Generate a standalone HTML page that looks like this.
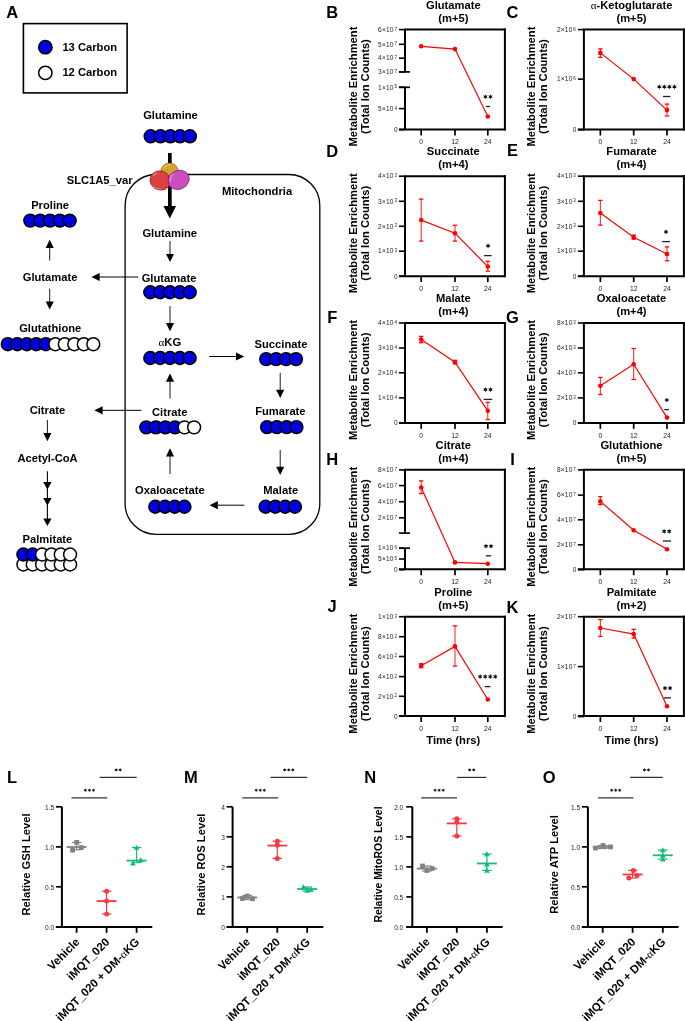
<!DOCTYPE html>
<html><head><meta charset="utf-8"><style>
html,body{margin:0;padding:0;background:#fff;}
svg{display:block;will-change:transform;}
text{font-family:"Liberation Sans",sans-serif;}
</style></head><body>
<svg width="685" height="1021" viewBox="0 0 685 1021">
<rect width="685" height="1021" fill="#fff"/>
<text x="6.20" y="18.10" font-size="16.5" text-anchor="start" font-weight="bold" fill="#000" >A</text>
<rect x="23.4" y="23.6" width="103.7" height="69.3" fill="none" stroke="#000" stroke-width="1.6"/>
<circle cx="45.35" cy="47.15" r="6.7" fill="#0000e0" stroke="#000" stroke-width="1.5"/>
<circle cx="45.35" cy="72.85" r="6.7" fill="#fff" stroke="#000" stroke-width="1.5"/>
<text x="62.40" y="50.90" font-size="11.2" text-anchor="start" font-weight="bold" fill="#000" >13 Carbon</text>
<text x="62.40" y="76.00" font-size="11.2" text-anchor="start" font-weight="bold" fill="#000" >12 Carbon</text>
<rect x="125.1" y="174.5" width="194.7" height="359.9" rx="31" ry="31" fill="none" stroke="#000" stroke-width="1.3"/>
<text x="257.00" y="195.00" font-size="11.2" text-anchor="middle" font-weight="bold" fill="#000" >Mitochondria</text>
<text x="170.50" y="119.40" font-size="11.2" text-anchor="middle" font-weight="bold" fill="#000" >Glutamine</text>
<circle cx="150.70" cy="136.30" r="6.45" fill="#0000e0" stroke="#000" stroke-width="1.5"/>
<circle cx="160.50" cy="136.30" r="6.45" fill="#0000e0" stroke="#000" stroke-width="1.5"/>
<circle cx="170.30" cy="136.30" r="6.45" fill="#0000e0" stroke="#000" stroke-width="1.5"/>
<circle cx="180.10" cy="136.30" r="6.45" fill="#0000e0" stroke="#000" stroke-width="1.5"/>
<circle cx="189.90" cy="136.30" r="6.45" fill="#0000e0" stroke="#000" stroke-width="1.5"/>
<rect x="168" y="153" width="3.7" height="54" fill="#000"/>
<polygon points="163.5,206 176.1,206 169.8,218.4" fill="#000"/>
<g>
<ellipse cx="169.5" cy="171.2" rx="8.7" ry="8.1" fill="#d5a42c" stroke="#8a6510" stroke-width="0.7"/>
<path d="M163.5,168.5 A6.5,6 0 0 1 170,164.8" fill="none" stroke="#fff" stroke-opacity="0.55" stroke-width="0.9" stroke-linecap="round"/>
<g transform="rotate(18 160.3 180.5)"><ellipse cx="160.3" cy="180.5" rx="10.4" ry="9.5" fill="#db4141" stroke="#7d1818" stroke-width="0.7"/><path d="M152.4,178 A8.2,7.4 0 0 1 154.5,174.3" fill="none" stroke="#fff" stroke-opacity="0.6" stroke-width="0.9" stroke-linecap="round"/><path d="M156,188.2 A8.4,7.6 0 0 0 163.5,188.5" fill="none" stroke="#fff" stroke-opacity="0.45" stroke-width="0.9" stroke-linecap="round"/></g>
<g transform="rotate(-25 178.6 179.9)"><ellipse cx="178.6" cy="179.9" rx="10.9" ry="9.3" fill="#cd4dc1" stroke="#6b1863" stroke-width="0.7"/><path d="M170.5,177.5 A8.6,7.4 0 0 1 176,172.3" fill="none" stroke="#fff" stroke-opacity="0.6" stroke-width="0.9" stroke-linecap="round"/></g>
</g>
<text x="132.60" y="184.20" font-size="11.2" text-anchor="end" font-weight="bold" fill="#000" >SLC1A5_var</text>
<text x="169.75" y="237.10" font-size="11.2" text-anchor="middle" font-weight="bold" fill="#000" >Glutamine</text>
<line x1="170.00" y1="241.10" x2="170.00" y2="254.72" stroke="#000" stroke-width="0.9" stroke-linecap="butt"/>
<polygon points="165.95,253.90 174.05,253.90 170.00,262.10" fill="#000"/>
<text x="169.00" y="282.00" font-size="11.2" text-anchor="middle" font-weight="bold" fill="#000" >Glutamate</text>
<circle cx="150.30" cy="292.25" r="6.45" fill="#0000e0" stroke="#000" stroke-width="1.5"/>
<circle cx="160.15" cy="292.25" r="6.45" fill="#0000e0" stroke="#000" stroke-width="1.5"/>
<circle cx="170.00" cy="292.25" r="6.45" fill="#0000e0" stroke="#000" stroke-width="1.5"/>
<circle cx="179.85" cy="292.25" r="6.45" fill="#0000e0" stroke="#000" stroke-width="1.5"/>
<circle cx="189.70" cy="292.25" r="6.45" fill="#0000e0" stroke="#000" stroke-width="1.5"/>
<line x1="170.00" y1="306.00" x2="170.00" y2="323.92" stroke="#000" stroke-width="0.9" stroke-linecap="butt"/>
<polygon points="165.95,323.10 174.05,323.10 170.00,331.30" fill="#000"/>
<text x="169.75" y="346.30" font-size="11.2" text-anchor="middle" font-weight="bold" fill="#000" ><tspan font-family="Liberation Serif" font-weight="normal">&#945;</tspan>KG</text>
<circle cx="150.30" cy="358.00" r="6.45" fill="#0000e0" stroke="#000" stroke-width="1.5"/>
<circle cx="160.15" cy="358.00" r="6.45" fill="#0000e0" stroke="#000" stroke-width="1.5"/>
<circle cx="170.00" cy="358.00" r="6.45" fill="#0000e0" stroke="#000" stroke-width="1.5"/>
<circle cx="179.85" cy="358.00" r="6.45" fill="#0000e0" stroke="#000" stroke-width="1.5"/>
<circle cx="189.70" cy="358.00" r="6.45" fill="#0000e0" stroke="#000" stroke-width="1.5"/>
<line x1="209.10" y1="356.50" x2="236.82" y2="356.50" stroke="#000" stroke-width="1.0" stroke-linecap="butt"/>
<polygon points="236.00,352.40 236.00,360.60 244.20,356.50" fill="#000"/>
<text x="281.00" y="348.00" font-size="11.2" text-anchor="middle" font-weight="bold" fill="#000" >Succinate</text>
<circle cx="266.20" cy="359.10" r="6.45" fill="#0000e0" stroke="#000" stroke-width="1.5"/>
<circle cx="276.13" cy="359.10" r="6.45" fill="#0000e0" stroke="#000" stroke-width="1.5"/>
<circle cx="286.06" cy="359.10" r="6.45" fill="#0000e0" stroke="#000" stroke-width="1.5"/>
<circle cx="295.99" cy="359.10" r="6.45" fill="#0000e0" stroke="#000" stroke-width="1.5"/>
<line x1="280.20" y1="372.80" x2="280.20" y2="390.52" stroke="#000" stroke-width="0.9" stroke-linecap="butt"/>
<polygon points="276.15,389.70 284.25,389.70 280.20,397.90" fill="#000"/>
<text x="280.40" y="415.20" font-size="11.2" text-anchor="middle" font-weight="bold" fill="#000" >Fumarate</text>
<circle cx="267.10" cy="427.10" r="6.45" fill="#0000e0" stroke="#000" stroke-width="1.5"/>
<circle cx="276.87" cy="427.10" r="6.45" fill="#0000e0" stroke="#000" stroke-width="1.5"/>
<circle cx="286.64" cy="427.10" r="6.45" fill="#0000e0" stroke="#000" stroke-width="1.5"/>
<circle cx="296.41" cy="427.10" r="6.45" fill="#0000e0" stroke="#000" stroke-width="1.5"/>
<line x1="280.20" y1="450.00" x2="280.20" y2="467.62" stroke="#000" stroke-width="0.9" stroke-linecap="butt"/>
<polygon points="276.15,466.80 284.25,466.80 280.20,475.00" fill="#000"/>
<text x="280.70" y="494.20" font-size="11.2" text-anchor="middle" font-weight="bold" fill="#000" >Malate</text>
<circle cx="265.60" cy="506.75" r="6.45" fill="#0000e0" stroke="#000" stroke-width="1.5"/>
<circle cx="275.37" cy="506.75" r="6.45" fill="#0000e0" stroke="#000" stroke-width="1.5"/>
<circle cx="285.14" cy="506.75" r="6.45" fill="#0000e0" stroke="#000" stroke-width="1.5"/>
<circle cx="294.91" cy="506.75" r="6.45" fill="#0000e0" stroke="#000" stroke-width="1.5"/>
<line x1="244.20" y1="505.20" x2="216.98" y2="505.20" stroke="#000" stroke-width="1.0" stroke-linecap="butt"/>
<polygon points="217.80,501.10 217.80,509.30 209.60,505.20" fill="#000"/>
<text x="169.85" y="494.20" font-size="11.2" text-anchor="middle" font-weight="bold" fill="#000" >Oxaloacetate</text>
<circle cx="155.30" cy="506.75" r="6.45" fill="#0000e0" stroke="#000" stroke-width="1.5"/>
<circle cx="165.00" cy="506.75" r="6.45" fill="#0000e0" stroke="#000" stroke-width="1.5"/>
<circle cx="174.70" cy="506.75" r="6.45" fill="#0000e0" stroke="#000" stroke-width="1.5"/>
<circle cx="184.40" cy="506.75" r="6.45" fill="#0000e0" stroke="#000" stroke-width="1.5"/>
<line x1="170.00" y1="474.00" x2="170.00" y2="455.68" stroke="#000" stroke-width="0.9" stroke-linecap="butt"/>
<polygon points="165.95,456.50 174.05,456.50 170.00,448.30" fill="#000"/>
<text x="169.75" y="415.60" font-size="11.2" text-anchor="middle" font-weight="bold" fill="#000" >Citrate</text>
<circle cx="146.30" cy="427.35" r="6.45" fill="#0000e0" stroke="#000" stroke-width="1.5"/>
<circle cx="155.86" cy="427.35" r="6.45" fill="#0000e0" stroke="#000" stroke-width="1.5"/>
<circle cx="165.42" cy="427.35" r="6.45" fill="#0000e0" stroke="#000" stroke-width="1.5"/>
<circle cx="174.98" cy="427.35" r="6.45" fill="#0000e0" stroke="#000" stroke-width="1.5"/>
<circle cx="184.54" cy="427.35" r="6.45" fill="#fff" stroke="#000" stroke-width="1.5"/>
<circle cx="194.10" cy="427.35" r="6.45" fill="#fff" stroke="#000" stroke-width="1.5"/>
<line x1="170.00" y1="398.50" x2="170.00" y2="380.88" stroke="#000" stroke-width="0.9" stroke-linecap="butt"/>
<polygon points="165.95,381.70 174.05,381.70 170.00,373.50" fill="#000"/>
<line x1="138.30" y1="277.00" x2="98.78" y2="277.00" stroke="#000" stroke-width="1.0" stroke-linecap="butt"/>
<polygon points="99.60,272.90 99.60,281.10 91.40,277.00" fill="#000"/>
<line x1="141.50" y1="410.30" x2="101.78" y2="410.30" stroke="#000" stroke-width="1.0" stroke-linecap="butt"/>
<polygon points="102.60,406.20 102.60,414.40 94.40,410.30" fill="#000"/>
<text x="50.10" y="209.00" font-size="11.2" text-anchor="middle" font-weight="bold" fill="#000" >Proline</text>
<circle cx="30.30" cy="220.60" r="6.45" fill="#0000e0" stroke="#000" stroke-width="1.5"/>
<circle cx="40.15" cy="220.60" r="6.45" fill="#0000e0" stroke="#000" stroke-width="1.5"/>
<circle cx="50.00" cy="220.60" r="6.45" fill="#0000e0" stroke="#000" stroke-width="1.5"/>
<circle cx="59.85" cy="220.60" r="6.45" fill="#0000e0" stroke="#000" stroke-width="1.5"/>
<circle cx="69.70" cy="220.60" r="6.45" fill="#0000e0" stroke="#000" stroke-width="1.5"/>
<line x1="49.70" y1="260.50" x2="49.70" y2="247.08" stroke="#000" stroke-width="0.9" stroke-linecap="butt"/>
<polygon points="45.65,247.90 53.75,247.90 49.70,239.70" fill="#000"/>
<text x="50.05" y="281.40" font-size="11.2" text-anchor="middle" font-weight="bold" fill="#000" >Glutamate</text>
<line x1="49.70" y1="288.70" x2="49.70" y2="302.22" stroke="#000" stroke-width="0.9" stroke-linecap="butt"/>
<polygon points="45.65,301.40 53.75,301.40 49.70,309.60" fill="#000"/>
<text x="50.25" y="332.40" font-size="11.2" text-anchor="middle" font-weight="bold" fill="#000" >Glutathione</text>
<circle cx="7.80" cy="344.20" r="6.45" fill="#0000e0" stroke="#000" stroke-width="1.5"/>
<circle cx="17.30" cy="344.20" r="6.45" fill="#0000e0" stroke="#000" stroke-width="1.5"/>
<circle cx="26.80" cy="344.20" r="6.45" fill="#0000e0" stroke="#000" stroke-width="1.5"/>
<circle cx="36.30" cy="344.20" r="6.45" fill="#0000e0" stroke="#000" stroke-width="1.5"/>
<circle cx="45.80" cy="344.20" r="6.45" fill="#0000e0" stroke="#000" stroke-width="1.5"/>
<circle cx="55.30" cy="344.20" r="6.45" fill="#fff" stroke="#000" stroke-width="1.5"/>
<circle cx="64.80" cy="344.20" r="6.45" fill="#fff" stroke="#000" stroke-width="1.5"/>
<circle cx="74.30" cy="344.20" r="6.45" fill="#fff" stroke="#000" stroke-width="1.5"/>
<circle cx="83.80" cy="344.20" r="6.45" fill="#fff" stroke="#000" stroke-width="1.5"/>
<circle cx="93.30" cy="344.20" r="6.45" fill="#fff" stroke="#000" stroke-width="1.5"/>
<text x="47.40" y="414.10" font-size="11.2" text-anchor="middle" font-weight="bold" fill="#000" >Citrate</text>
<line x1="47.40" y1="419.90" x2="47.40" y2="433.92" stroke="#000" stroke-width="0.9" stroke-linecap="butt"/>
<polygon points="43.35,433.10 51.45,433.10 47.40,441.30" fill="#000"/>
<text x="47.55" y="462.40" font-size="11.2" text-anchor="middle" font-weight="bold" fill="#000" >Acetyl-CoA</text>
<line x1="47.40" y1="471.20" x2="47.40" y2="519.00" stroke="#000" stroke-width="1.1" stroke-linecap="butt"/>
<polygon points="43.25,481.90 51.55,481.90 47.4,489.50" fill="#000"/>
<polygon points="43.25,497.90 51.55,497.90 47.4,505.50" fill="#000"/>
<polygon points="43.25,518.40 51.55,518.40 47.4,526.00" fill="#000"/>
<text x="47.45" y="543.20" font-size="11.2" text-anchor="middle" font-weight="bold" fill="#000" >Palmitate</text>
<circle cx="23.40" cy="564.50" r="6.45" fill="#fff" stroke="#000" stroke-width="1.5"/>
<circle cx="32.74" cy="564.50" r="6.45" fill="#fff" stroke="#000" stroke-width="1.5"/>
<circle cx="42.08" cy="564.50" r="6.45" fill="#fff" stroke="#000" stroke-width="1.5"/>
<circle cx="51.42" cy="564.50" r="6.45" fill="#fff" stroke="#000" stroke-width="1.5"/>
<circle cx="60.76" cy="564.50" r="6.45" fill="#fff" stroke="#000" stroke-width="1.5"/>
<circle cx="70.10" cy="564.50" r="6.45" fill="#fff" stroke="#000" stroke-width="1.5"/>
<circle cx="23.40" cy="554.50" r="6.45" fill="#0000e0" stroke="#000" stroke-width="1.5"/>
<circle cx="32.74" cy="554.50" r="6.45" fill="#0000e0" stroke="#000" stroke-width="1.5"/>
<circle cx="42.08" cy="554.50" r="6.45" fill="#fff" stroke="#000" stroke-width="1.5"/>
<circle cx="51.42" cy="554.50" r="6.45" fill="#fff" stroke="#000" stroke-width="1.5"/>
<circle cx="60.76" cy="554.50" r="6.45" fill="#fff" stroke="#000" stroke-width="1.5"/>
<circle cx="70.10" cy="554.50" r="6.45" fill="#fff" stroke="#000" stroke-width="1.5"/>
<text x="332.20" y="18.10" font-size="16.5" text-anchor="middle" font-weight="bold" fill="#000" >B</text>
<text x="453.30" y="8.60" font-size="11.2" text-anchor="middle" font-weight="bold" fill="#000" >Glutamate</text>
<text x="453.30" y="21.80" font-size="11.2" text-anchor="middle" font-weight="bold" fill="#000" >(m+5)</text>
<text x="356.90" y="86.60" font-size="11.2" font-weight="bold" text-anchor="middle" transform="rotate(-90 356.90 86.60)">Metabolite Enrichment</text>
<text x="369.30" y="86.60" font-size="11.2" font-weight="bold" text-anchor="middle" transform="rotate(-90 369.30 86.60)">(Total Ion Counts)</text>
<line x1="405.00" y1="29.60" x2="504.90" y2="29.60" stroke="#000" stroke-width="2.0" stroke-linecap="square"/>
<line x1="504.90" y1="29.60" x2="504.90" y2="129.60" stroke="#000" stroke-width="2.0" stroke-linecap="square"/>
<line x1="399.00" y1="129.60" x2="504.90" y2="129.60" stroke="#000" stroke-width="2.0" stroke-linecap="butt"/>
<line x1="405.00" y1="29.60" x2="405.00" y2="71.90" stroke="#000" stroke-width="2.0" stroke-linecap="butt"/>
<line x1="405.00" y1="87.30" x2="405.00" y2="129.60" stroke="#000" stroke-width="2.0" stroke-linecap="butt"/>
<line x1="399.00" y1="71.90" x2="410.00" y2="71.90" stroke="#000" stroke-width="1.7" stroke-linecap="butt"/>
<line x1="399.00" y1="87.30" x2="410.00" y2="87.30" stroke="#000" stroke-width="1.7" stroke-linecap="butt"/>
<line x1="399.00" y1="29.60" x2="405.00" y2="29.60" stroke="#000" stroke-width="1.6" stroke-linecap="butt"/>
<text x="396.90" y="31.80" font-size="6.6" text-anchor="end" fill="#222" letter-spacing="0.2">6&#215;10<tspan font-size="4.5" dy="-1.3" dx="0.7" letter-spacing="0">7</tspan></text>
<line x1="399.00" y1="44.30" x2="405.00" y2="44.30" stroke="#000" stroke-width="1.6" stroke-linecap="butt"/>
<text x="396.90" y="46.50" font-size="6.6" text-anchor="end" fill="#222" letter-spacing="0.2">5&#215;10<tspan font-size="4.5" dy="-1.3" dx="0.7" letter-spacing="0">7</tspan></text>
<line x1="399.00" y1="58.20" x2="405.00" y2="58.20" stroke="#000" stroke-width="1.6" stroke-linecap="butt"/>
<text x="396.90" y="60.40" font-size="6.6" text-anchor="end" fill="#222" letter-spacing="0.2">4&#215;10<tspan font-size="4.5" dy="-1.3" dx="0.7" letter-spacing="0">7</tspan></text>
<line x1="399.00" y1="71.90" x2="405.00" y2="71.90" stroke="#000" stroke-width="1.6" stroke-linecap="butt"/>
<text x="396.90" y="74.10" font-size="6.6" text-anchor="end" fill="#222" letter-spacing="0.2">3&#215;10<tspan font-size="4.5" dy="-1.3" dx="0.7" letter-spacing="0">7</tspan></text>
<line x1="399.00" y1="87.30" x2="405.00" y2="87.30" stroke="#000" stroke-width="1.6" stroke-linecap="butt"/>
<text x="396.90" y="89.50" font-size="6.6" text-anchor="end" fill="#222" letter-spacing="0.2">1&#215;10<tspan font-size="4.5" dy="-1.3" dx="0.7" letter-spacing="0">5</tspan></text>
<line x1="399.00" y1="108.60" x2="405.00" y2="108.60" stroke="#000" stroke-width="1.6" stroke-linecap="butt"/>
<text x="396.90" y="110.80" font-size="6.6" text-anchor="end" fill="#222" letter-spacing="0.2">5&#215;10<tspan font-size="4.5" dy="-1.3" dx="0.7" letter-spacing="0">4</tspan></text>
<line x1="399.00" y1="129.60" x2="405.00" y2="129.60" stroke="#000" stroke-width="1.6" stroke-linecap="butt"/>
<text x="397.50" y="131.90" font-size="6.5" text-anchor="end" fill="#222" font-family="Liberation Sans, sans-serif">0</text>
<line x1="421.20" y1="129.60" x2="421.20" y2="135.50" stroke="#000" stroke-width="1.7" stroke-linecap="butt"/>
<text x="421.20" y="144.30" font-size="6.8" text-anchor="middle" fill="#222">0</text>
<line x1="455.00" y1="129.60" x2="455.00" y2="135.50" stroke="#000" stroke-width="1.7" stroke-linecap="butt"/>
<text x="455.00" y="144.30" font-size="6.8" text-anchor="middle" fill="#222">12</text>
<line x1="487.80" y1="129.60" x2="487.80" y2="135.50" stroke="#000" stroke-width="1.7" stroke-linecap="butt"/>
<text x="487.80" y="144.30" font-size="6.8" text-anchor="middle" fill="#222">24</text>
<polyline points="421.20,46.30 455.00,49.10 487.80,116.50" fill="none" stroke="#ff0000" stroke-width="1.2"/>
<circle cx="421.20" cy="46.30" r="2.3" fill="#ff0000"/>
<circle cx="455.00" cy="49.10" r="2.3" fill="#ff0000"/>
<circle cx="487.80" cy="116.50" r="2.3" fill="#ff0000"/>
<polygon points="485.43,94.15 486.05,95.67 487.68,95.45 486.68,96.75 487.68,98.05 486.05,97.83 485.43,99.35 484.80,97.83 483.17,98.05 484.18,96.75 483.17,95.45 484.80,95.67" fill="#111"/>
<polygon points="490.48,94.15 491.10,95.67 492.73,95.45 491.73,96.75 492.73,98.05 491.10,97.83 490.48,99.35 489.85,97.83 488.22,98.05 489.23,96.75 488.22,95.45 489.85,95.67" fill="#111"/>
<line x1="485.90" y1="106.50" x2="489.90" y2="106.50" stroke="#222" stroke-width="1.3" stroke-linecap="butt"/>
<text x="512.50" y="18.00" font-size="16.5" text-anchor="middle" font-weight="bold" fill="#000" >C</text>
<text x="631.50" y="8.60" font-size="11.2" text-anchor="middle" font-weight="bold" fill="#000" ><tspan font-family="Liberation Serif" font-weight="normal">&#945;</tspan>-Ketoglutarate</text>
<text x="631.50" y="21.80" font-size="11.2" text-anchor="middle" font-weight="bold" fill="#000" >(m+5)</text>
<text x="534.70" y="86.60" font-size="11.2" font-weight="bold" text-anchor="middle" transform="rotate(-90 534.70 86.60)">Metabolite Enrichment</text>
<text x="547.30" y="86.60" font-size="11.2" font-weight="bold" text-anchor="middle" transform="rotate(-90 547.30 86.60)">(Total Ion Counts)</text>
<line x1="583.90" y1="29.60" x2="683.90" y2="29.60" stroke="#000" stroke-width="2.0" stroke-linecap="square"/>
<line x1="683.90" y1="29.60" x2="683.90" y2="129.60" stroke="#000" stroke-width="2.0" stroke-linecap="square"/>
<line x1="577.90" y1="129.60" x2="683.90" y2="129.60" stroke="#000" stroke-width="2.0" stroke-linecap="butt"/>
<line x1="583.90" y1="29.60" x2="583.90" y2="130.50" stroke="#000" stroke-width="2.0" stroke-linecap="butt"/>
<line x1="577.90" y1="29.60" x2="583.90" y2="29.60" stroke="#000" stroke-width="1.6" stroke-linecap="butt"/>
<text x="575.80" y="31.80" font-size="6.6" text-anchor="end" fill="#222" letter-spacing="0.2">2&#215;10<tspan font-size="4.5" dy="-1.3" dx="0.7" letter-spacing="0">6</tspan></text>
<line x1="577.90" y1="79.10" x2="583.90" y2="79.10" stroke="#000" stroke-width="1.6" stroke-linecap="butt"/>
<text x="575.80" y="81.30" font-size="6.6" text-anchor="end" fill="#222" letter-spacing="0.2">1&#215;10<tspan font-size="4.5" dy="-1.3" dx="0.7" letter-spacing="0">6</tspan></text>
<line x1="577.90" y1="129.60" x2="583.90" y2="129.60" stroke="#000" stroke-width="1.6" stroke-linecap="butt"/>
<text x="576.40" y="131.90" font-size="6.5" text-anchor="end" fill="#222" font-family="Liberation Sans, sans-serif">0</text>
<line x1="600.35" y1="129.60" x2="600.35" y2="135.50" stroke="#000" stroke-width="1.7" stroke-linecap="butt"/>
<text x="600.35" y="144.30" font-size="6.8" text-anchor="middle" fill="#222">0</text>
<line x1="633.70" y1="129.60" x2="633.70" y2="135.50" stroke="#000" stroke-width="1.7" stroke-linecap="butt"/>
<text x="633.70" y="144.30" font-size="6.8" text-anchor="middle" fill="#222">12</text>
<line x1="667.00" y1="129.60" x2="667.00" y2="135.50" stroke="#000" stroke-width="1.7" stroke-linecap="butt"/>
<text x="667.00" y="144.30" font-size="6.8" text-anchor="middle" fill="#222">24</text>
<polyline points="600.35,52.90 633.70,79.10 667.00,110.10" fill="none" stroke="#ff0000" stroke-width="1.2"/>
<line x1="600.35" y1="48.90" x2="600.35" y2="57.30" stroke="#ff0000" stroke-width="0.9" stroke-linecap="butt"/>
<line x1="598.15" y1="48.90" x2="602.55" y2="48.90" stroke="#ff0000" stroke-width="1.3" stroke-linecap="butt"/>
<line x1="598.15" y1="57.30" x2="602.55" y2="57.30" stroke="#ff0000" stroke-width="1.3" stroke-linecap="butt"/>
<circle cx="600.35" cy="52.90" r="2.3" fill="#ff0000"/>
<circle cx="633.70" cy="79.10" r="2.3" fill="#ff0000"/>
<line x1="667.00" y1="104.10" x2="667.00" y2="115.90" stroke="#ff0000" stroke-width="0.9" stroke-linecap="butt"/>
<line x1="664.80" y1="104.10" x2="669.20" y2="104.10" stroke="#ff0000" stroke-width="1.3" stroke-linecap="butt"/>
<line x1="664.80" y1="115.90" x2="669.20" y2="115.90" stroke="#ff0000" stroke-width="1.3" stroke-linecap="butt"/>
<circle cx="667.00" cy="110.10" r="2.3" fill="#ff0000"/>
<polygon points="659.27,84.20 659.90,85.72 661.53,85.50 660.52,86.80 661.53,88.10 659.90,87.88 659.27,89.40 658.65,87.88 657.02,88.10 658.02,86.80 657.02,85.50 658.65,85.72" fill="#111"/>
<polygon points="664.32,84.20 664.95,85.72 666.58,85.50 665.57,86.80 666.58,88.10 664.95,87.88 664.32,89.40 663.70,87.88 662.07,88.10 663.07,86.80 662.07,85.50 663.70,85.72" fill="#111"/>
<polygon points="669.38,84.20 670.00,85.72 671.63,85.50 670.62,86.80 671.63,88.10 670.00,87.88 669.38,89.40 668.75,87.88 667.12,88.10 668.12,86.80 667.12,85.50 668.75,85.72" fill="#111"/>
<polygon points="674.42,84.20 675.05,85.72 676.68,85.50 675.67,86.80 676.68,88.10 675.05,87.88 674.42,89.40 673.80,87.88 672.17,88.10 673.17,86.80 672.17,85.50 673.80,85.72" fill="#111"/>
<line x1="663.00" y1="96.50" x2="670.40" y2="96.50" stroke="#222" stroke-width="1.3" stroke-linecap="butt"/>
<text x="332.20" y="156.60" font-size="16.5" text-anchor="middle" font-weight="bold" fill="#000" >D</text>
<text x="453.30" y="155.20" font-size="11.2" text-anchor="middle" font-weight="bold" fill="#000" >Succinate</text>
<text x="453.30" y="168.40" font-size="11.2" text-anchor="middle" font-weight="bold" fill="#000" >(m+4)</text>
<text x="356.90" y="233.20" font-size="11.2" font-weight="bold" text-anchor="middle" transform="rotate(-90 356.90 233.20)">Metabolite Enrichment</text>
<text x="369.30" y="233.20" font-size="11.2" font-weight="bold" text-anchor="middle" transform="rotate(-90 369.30 233.20)">(Total Ion Counts)</text>
<line x1="405.00" y1="176.20" x2="504.90" y2="176.20" stroke="#000" stroke-width="2.0" stroke-linecap="square"/>
<line x1="504.90" y1="176.20" x2="504.90" y2="276.20" stroke="#000" stroke-width="2.0" stroke-linecap="square"/>
<line x1="399.00" y1="276.20" x2="504.90" y2="276.20" stroke="#000" stroke-width="2.0" stroke-linecap="butt"/>
<line x1="405.00" y1="176.20" x2="405.00" y2="277.10" stroke="#000" stroke-width="2.0" stroke-linecap="butt"/>
<line x1="399.00" y1="176.20" x2="405.00" y2="176.20" stroke="#000" stroke-width="1.6" stroke-linecap="butt"/>
<text x="396.90" y="178.40" font-size="6.6" text-anchor="end" fill="#222" letter-spacing="0.2">4&#215;10<tspan font-size="4.5" dy="-1.3" dx="0.7" letter-spacing="0">3</tspan></text>
<line x1="399.00" y1="201.30" x2="405.00" y2="201.30" stroke="#000" stroke-width="1.6" stroke-linecap="butt"/>
<text x="396.90" y="203.50" font-size="6.6" text-anchor="end" fill="#222" letter-spacing="0.2">3&#215;10<tspan font-size="4.5" dy="-1.3" dx="0.7" letter-spacing="0">3</tspan></text>
<line x1="399.00" y1="226.30" x2="405.00" y2="226.30" stroke="#000" stroke-width="1.6" stroke-linecap="butt"/>
<text x="396.90" y="228.50" font-size="6.6" text-anchor="end" fill="#222" letter-spacing="0.2">2&#215;10<tspan font-size="4.5" dy="-1.3" dx="0.7" letter-spacing="0">3</tspan></text>
<line x1="399.00" y1="251.20" x2="405.00" y2="251.20" stroke="#000" stroke-width="1.6" stroke-linecap="butt"/>
<text x="396.90" y="253.40" font-size="6.6" text-anchor="end" fill="#222" letter-spacing="0.2">1&#215;10<tspan font-size="4.5" dy="-1.3" dx="0.7" letter-spacing="0">3</tspan></text>
<line x1="399.00" y1="276.20" x2="405.00" y2="276.20" stroke="#000" stroke-width="1.6" stroke-linecap="butt"/>
<text x="397.50" y="278.50" font-size="6.5" text-anchor="end" fill="#222" font-family="Liberation Sans, sans-serif">0</text>
<line x1="421.20" y1="276.20" x2="421.20" y2="282.10" stroke="#000" stroke-width="1.7" stroke-linecap="butt"/>
<text x="421.20" y="290.90" font-size="6.8" text-anchor="middle" fill="#222">0</text>
<line x1="455.00" y1="276.20" x2="455.00" y2="282.10" stroke="#000" stroke-width="1.7" stroke-linecap="butt"/>
<text x="455.00" y="290.90" font-size="6.8" text-anchor="middle" fill="#222">12</text>
<line x1="487.80" y1="276.20" x2="487.80" y2="282.10" stroke="#000" stroke-width="1.7" stroke-linecap="butt"/>
<text x="487.80" y="290.90" font-size="6.8" text-anchor="middle" fill="#222">24</text>
<polyline points="421.20,220.10 455.00,233.20 487.80,266.60" fill="none" stroke="#ff0000" stroke-width="1.2"/>
<line x1="421.20" y1="199.10" x2="421.20" y2="241.10" stroke="#ff0000" stroke-width="0.9" stroke-linecap="butt"/>
<line x1="419.00" y1="199.10" x2="423.40" y2="199.10" stroke="#ff0000" stroke-width="1.3" stroke-linecap="butt"/>
<line x1="419.00" y1="241.10" x2="423.40" y2="241.10" stroke="#ff0000" stroke-width="1.3" stroke-linecap="butt"/>
<circle cx="421.20" cy="220.10" r="2.3" fill="#ff0000"/>
<line x1="455.00" y1="225.30" x2="455.00" y2="241.10" stroke="#ff0000" stroke-width="0.9" stroke-linecap="butt"/>
<line x1="452.80" y1="225.30" x2="457.20" y2="225.30" stroke="#ff0000" stroke-width="1.3" stroke-linecap="butt"/>
<line x1="452.80" y1="241.10" x2="457.20" y2="241.10" stroke="#ff0000" stroke-width="1.3" stroke-linecap="butt"/>
<circle cx="455.00" cy="233.20" r="2.3" fill="#ff0000"/>
<line x1="487.80" y1="261.30" x2="487.80" y2="271.10" stroke="#ff0000" stroke-width="0.9" stroke-linecap="butt"/>
<line x1="485.60" y1="261.30" x2="490.00" y2="261.30" stroke="#ff0000" stroke-width="1.3" stroke-linecap="butt"/>
<line x1="485.60" y1="271.10" x2="490.00" y2="271.10" stroke="#ff0000" stroke-width="1.3" stroke-linecap="butt"/>
<circle cx="487.80" cy="266.60" r="2.3" fill="#ff0000"/>
<polygon points="488.05,243.20 488.68,244.72 490.30,244.50 489.30,245.80 490.30,247.10 488.68,246.88 488.05,248.40 487.43,246.88 485.80,247.10 486.80,245.80 485.80,244.50 487.43,244.72" fill="#111"/>
<line x1="484.10" y1="255.60" x2="491.60" y2="255.60" stroke="#222" stroke-width="1.3" stroke-linecap="butt"/>
<text x="512.50" y="156.00" font-size="16.5" text-anchor="middle" font-weight="bold" fill="#000" >E</text>
<text x="631.50" y="155.20" font-size="11.2" text-anchor="middle" font-weight="bold" fill="#000" >Fumarate</text>
<text x="631.50" y="168.40" font-size="11.2" text-anchor="middle" font-weight="bold" fill="#000" >(m+4)</text>
<text x="534.70" y="233.20" font-size="11.2" font-weight="bold" text-anchor="middle" transform="rotate(-90 534.70 233.20)">Metabolite Enrichment</text>
<text x="547.30" y="233.20" font-size="11.2" font-weight="bold" text-anchor="middle" transform="rotate(-90 547.30 233.20)">(Total Ion Counts)</text>
<line x1="583.90" y1="176.20" x2="683.90" y2="176.20" stroke="#000" stroke-width="2.0" stroke-linecap="square"/>
<line x1="683.90" y1="176.20" x2="683.90" y2="276.20" stroke="#000" stroke-width="2.0" stroke-linecap="square"/>
<line x1="577.90" y1="276.20" x2="683.90" y2="276.20" stroke="#000" stroke-width="2.0" stroke-linecap="butt"/>
<line x1="583.90" y1="176.20" x2="583.90" y2="277.10" stroke="#000" stroke-width="2.0" stroke-linecap="butt"/>
<line x1="577.90" y1="176.20" x2="583.90" y2="176.20" stroke="#000" stroke-width="1.6" stroke-linecap="butt"/>
<text x="575.80" y="178.40" font-size="6.6" text-anchor="end" fill="#222" letter-spacing="0.2">4&#215;10<tspan font-size="4.5" dy="-1.3" dx="0.7" letter-spacing="0">3</tspan></text>
<line x1="577.90" y1="201.30" x2="583.90" y2="201.30" stroke="#000" stroke-width="1.6" stroke-linecap="butt"/>
<text x="575.80" y="203.50" font-size="6.6" text-anchor="end" fill="#222" letter-spacing="0.2">3&#215;10<tspan font-size="4.5" dy="-1.3" dx="0.7" letter-spacing="0">3</tspan></text>
<line x1="577.90" y1="226.30" x2="583.90" y2="226.30" stroke="#000" stroke-width="1.6" stroke-linecap="butt"/>
<text x="575.80" y="228.50" font-size="6.6" text-anchor="end" fill="#222" letter-spacing="0.2">2&#215;10<tspan font-size="4.5" dy="-1.3" dx="0.7" letter-spacing="0">3</tspan></text>
<line x1="577.90" y1="251.20" x2="583.90" y2="251.20" stroke="#000" stroke-width="1.6" stroke-linecap="butt"/>
<text x="575.80" y="253.40" font-size="6.6" text-anchor="end" fill="#222" letter-spacing="0.2">1&#215;10<tspan font-size="4.5" dy="-1.3" dx="0.7" letter-spacing="0">3</tspan></text>
<line x1="577.90" y1="276.20" x2="583.90" y2="276.20" stroke="#000" stroke-width="1.6" stroke-linecap="butt"/>
<text x="576.40" y="278.50" font-size="6.5" text-anchor="end" fill="#222" font-family="Liberation Sans, sans-serif">0</text>
<line x1="600.35" y1="276.20" x2="600.35" y2="282.10" stroke="#000" stroke-width="1.7" stroke-linecap="butt"/>
<text x="600.35" y="290.90" font-size="6.8" text-anchor="middle" fill="#222">0</text>
<line x1="633.70" y1="276.20" x2="633.70" y2="282.10" stroke="#000" stroke-width="1.7" stroke-linecap="butt"/>
<text x="633.70" y="290.90" font-size="6.8" text-anchor="middle" fill="#222">12</text>
<line x1="667.00" y1="276.20" x2="667.00" y2="282.10" stroke="#000" stroke-width="1.7" stroke-linecap="butt"/>
<text x="667.00" y="290.90" font-size="6.8" text-anchor="middle" fill="#222">24</text>
<polyline points="600.35,213.00 633.70,237.20 667.00,254.00" fill="none" stroke="#ff0000" stroke-width="1.2"/>
<line x1="600.35" y1="200.40" x2="600.35" y2="225.10" stroke="#ff0000" stroke-width="0.9" stroke-linecap="butt"/>
<line x1="598.15" y1="200.40" x2="602.55" y2="200.40" stroke="#ff0000" stroke-width="1.3" stroke-linecap="butt"/>
<line x1="598.15" y1="225.10" x2="602.55" y2="225.10" stroke="#ff0000" stroke-width="1.3" stroke-linecap="butt"/>
<circle cx="600.35" cy="213.00" r="2.3" fill="#ff0000"/>
<line x1="633.70" y1="235.10" x2="633.70" y2="239.20" stroke="#ff0000" stroke-width="0.9" stroke-linecap="butt"/>
<line x1="631.50" y1="235.10" x2="635.90" y2="235.10" stroke="#ff0000" stroke-width="1.3" stroke-linecap="butt"/>
<line x1="631.50" y1="239.20" x2="635.90" y2="239.20" stroke="#ff0000" stroke-width="1.3" stroke-linecap="butt"/>
<circle cx="633.70" cy="237.20" r="2.3" fill="#ff0000"/>
<line x1="667.00" y1="246.90" x2="667.00" y2="260.80" stroke="#ff0000" stroke-width="0.9" stroke-linecap="butt"/>
<line x1="664.80" y1="246.90" x2="669.20" y2="246.90" stroke="#ff0000" stroke-width="1.3" stroke-linecap="butt"/>
<line x1="664.80" y1="260.80" x2="669.20" y2="260.80" stroke="#ff0000" stroke-width="1.3" stroke-linecap="butt"/>
<circle cx="667.00" cy="254.00" r="2.3" fill="#ff0000"/>
<polygon points="666.00,229.30 666.62,230.82 668.25,230.60 667.25,231.90 668.25,233.20 666.62,232.98 666.00,234.50 665.38,232.98 663.75,233.20 664.75,231.90 663.75,230.60 665.38,230.82" fill="#111"/>
<line x1="662.05" y1="241.60" x2="669.95" y2="241.60" stroke="#222" stroke-width="1.3" stroke-linecap="butt"/>
<text x="332.20" y="323.00" font-size="16.5" text-anchor="middle" font-weight="bold" fill="#000" >F</text>
<text x="453.30" y="302.00" font-size="11.2" text-anchor="middle" font-weight="bold" fill="#000" >Malate</text>
<text x="453.30" y="315.20" font-size="11.2" text-anchor="middle" font-weight="bold" fill="#000" >(m+4)</text>
<text x="356.90" y="380.00" font-size="11.2" font-weight="bold" text-anchor="middle" transform="rotate(-90 356.90 380.00)">Metabolite Enrichment</text>
<text x="369.30" y="380.00" font-size="11.2" font-weight="bold" text-anchor="middle" transform="rotate(-90 369.30 380.00)">(Total Ion Counts)</text>
<line x1="405.00" y1="323.00" x2="504.90" y2="323.00" stroke="#000" stroke-width="2.0" stroke-linecap="square"/>
<line x1="504.90" y1="323.00" x2="504.90" y2="423.00" stroke="#000" stroke-width="2.0" stroke-linecap="square"/>
<line x1="399.00" y1="423.00" x2="504.90" y2="423.00" stroke="#000" stroke-width="2.0" stroke-linecap="butt"/>
<line x1="405.00" y1="323.00" x2="405.00" y2="423.90" stroke="#000" stroke-width="2.0" stroke-linecap="butt"/>
<line x1="399.00" y1="323.00" x2="405.00" y2="323.00" stroke="#000" stroke-width="1.6" stroke-linecap="butt"/>
<text x="396.90" y="325.20" font-size="6.6" text-anchor="end" fill="#222" letter-spacing="0.2">4&#215;10<tspan font-size="4.5" dy="-1.3" dx="0.7" letter-spacing="0">4</tspan></text>
<line x1="399.00" y1="348.00" x2="405.00" y2="348.00" stroke="#000" stroke-width="1.6" stroke-linecap="butt"/>
<text x="396.90" y="350.20" font-size="6.6" text-anchor="end" fill="#222" letter-spacing="0.2">3&#215;10<tspan font-size="4.5" dy="-1.3" dx="0.7" letter-spacing="0">4</tspan></text>
<line x1="399.00" y1="372.80" x2="405.00" y2="372.80" stroke="#000" stroke-width="1.6" stroke-linecap="butt"/>
<text x="396.90" y="375.00" font-size="6.6" text-anchor="end" fill="#222" letter-spacing="0.2">2&#215;10<tspan font-size="4.5" dy="-1.3" dx="0.7" letter-spacing="0">4</tspan></text>
<line x1="399.00" y1="397.90" x2="405.00" y2="397.90" stroke="#000" stroke-width="1.6" stroke-linecap="butt"/>
<text x="396.90" y="400.10" font-size="6.6" text-anchor="end" fill="#222" letter-spacing="0.2">1&#215;10<tspan font-size="4.5" dy="-1.3" dx="0.7" letter-spacing="0">4</tspan></text>
<line x1="399.00" y1="423.00" x2="405.00" y2="423.00" stroke="#000" stroke-width="1.6" stroke-linecap="butt"/>
<text x="397.50" y="425.30" font-size="6.5" text-anchor="end" fill="#222" font-family="Liberation Sans, sans-serif">0</text>
<line x1="421.20" y1="423.00" x2="421.20" y2="428.90" stroke="#000" stroke-width="1.7" stroke-linecap="butt"/>
<text x="421.20" y="437.70" font-size="6.8" text-anchor="middle" fill="#222">0</text>
<line x1="455.00" y1="423.00" x2="455.00" y2="428.90" stroke="#000" stroke-width="1.7" stroke-linecap="butt"/>
<text x="455.00" y="437.70" font-size="6.8" text-anchor="middle" fill="#222">12</text>
<line x1="487.80" y1="423.00" x2="487.80" y2="428.90" stroke="#000" stroke-width="1.7" stroke-linecap="butt"/>
<text x="487.80" y="437.70" font-size="6.8" text-anchor="middle" fill="#222">24</text>
<polyline points="421.20,339.60 455.00,362.20 487.80,410.80" fill="none" stroke="#ff0000" stroke-width="1.2"/>
<line x1="421.20" y1="336.40" x2="421.20" y2="342.70" stroke="#ff0000" stroke-width="0.9" stroke-linecap="butt"/>
<line x1="419.00" y1="336.40" x2="423.40" y2="336.40" stroke="#ff0000" stroke-width="1.3" stroke-linecap="butt"/>
<line x1="419.00" y1="342.70" x2="423.40" y2="342.70" stroke="#ff0000" stroke-width="1.3" stroke-linecap="butt"/>
<circle cx="421.20" cy="339.60" r="2.3" fill="#ff0000"/>
<line x1="455.00" y1="360.30" x2="455.00" y2="363.80" stroke="#ff0000" stroke-width="0.9" stroke-linecap="butt"/>
<line x1="452.80" y1="360.30" x2="457.20" y2="360.30" stroke="#ff0000" stroke-width="1.3" stroke-linecap="butt"/>
<line x1="452.80" y1="363.80" x2="457.20" y2="363.80" stroke="#ff0000" stroke-width="1.3" stroke-linecap="butt"/>
<circle cx="455.00" cy="362.20" r="2.3" fill="#ff0000"/>
<line x1="487.80" y1="402.40" x2="487.80" y2="419.50" stroke="#ff0000" stroke-width="0.9" stroke-linecap="butt"/>
<line x1="485.60" y1="402.40" x2="490.00" y2="402.40" stroke="#ff0000" stroke-width="1.3" stroke-linecap="butt"/>
<line x1="485.60" y1="419.50" x2="490.00" y2="419.50" stroke="#ff0000" stroke-width="1.3" stroke-linecap="butt"/>
<circle cx="487.80" cy="410.80" r="2.3" fill="#ff0000"/>
<polygon points="485.43,386.95 486.05,388.47 487.68,388.25 486.68,389.55 487.68,390.85 486.05,390.63 485.43,392.15 484.80,390.63 483.17,390.85 484.18,389.55 483.17,388.25 484.80,388.47" fill="#111"/>
<polygon points="490.48,386.95 491.10,388.47 492.73,388.25 491.73,389.55 492.73,390.85 491.10,390.63 490.48,392.15 489.85,390.63 488.22,390.85 489.23,389.55 488.22,388.25 489.85,388.47" fill="#111"/>
<line x1="483.70" y1="399.40" x2="492.20" y2="399.40" stroke="#222" stroke-width="1.3" stroke-linecap="butt"/>
<text x="512.50" y="322.80" font-size="16.5" text-anchor="middle" font-weight="bold" fill="#000" >G</text>
<text x="631.50" y="302.00" font-size="11.2" text-anchor="middle" font-weight="bold" fill="#000" >Oxaloacetate</text>
<text x="631.50" y="315.20" font-size="11.2" text-anchor="middle" font-weight="bold" fill="#000" >(m+4)</text>
<text x="534.70" y="380.00" font-size="11.2" font-weight="bold" text-anchor="middle" transform="rotate(-90 534.70 380.00)">Metabolite Enrichment</text>
<text x="547.30" y="380.00" font-size="11.2" font-weight="bold" text-anchor="middle" transform="rotate(-90 547.30 380.00)">(Total Ion Counts)</text>
<line x1="583.90" y1="323.00" x2="683.90" y2="323.00" stroke="#000" stroke-width="2.0" stroke-linecap="square"/>
<line x1="683.90" y1="323.00" x2="683.90" y2="423.00" stroke="#000" stroke-width="2.0" stroke-linecap="square"/>
<line x1="577.90" y1="423.00" x2="683.90" y2="423.00" stroke="#000" stroke-width="2.0" stroke-linecap="butt"/>
<line x1="583.90" y1="323.00" x2="583.90" y2="423.90" stroke="#000" stroke-width="2.0" stroke-linecap="butt"/>
<line x1="577.90" y1="323.00" x2="583.90" y2="323.00" stroke="#000" stroke-width="1.6" stroke-linecap="butt"/>
<text x="575.80" y="325.20" font-size="6.6" text-anchor="end" fill="#222" letter-spacing="0.2">8&#215;10<tspan font-size="4.5" dy="-1.3" dx="0.7" letter-spacing="0">3</tspan></text>
<line x1="577.90" y1="348.00" x2="583.90" y2="348.00" stroke="#000" stroke-width="1.6" stroke-linecap="butt"/>
<text x="575.80" y="350.20" font-size="6.6" text-anchor="end" fill="#222" letter-spacing="0.2">6&#215;10<tspan font-size="4.5" dy="-1.3" dx="0.7" letter-spacing="0">3</tspan></text>
<line x1="577.90" y1="372.80" x2="583.90" y2="372.80" stroke="#000" stroke-width="1.6" stroke-linecap="butt"/>
<text x="575.80" y="375.00" font-size="6.6" text-anchor="end" fill="#222" letter-spacing="0.2">4&#215;10<tspan font-size="4.5" dy="-1.3" dx="0.7" letter-spacing="0">3</tspan></text>
<line x1="577.90" y1="397.90" x2="583.90" y2="397.90" stroke="#000" stroke-width="1.6" stroke-linecap="butt"/>
<text x="575.80" y="400.10" font-size="6.6" text-anchor="end" fill="#222" letter-spacing="0.2">2&#215;10<tspan font-size="4.5" dy="-1.3" dx="0.7" letter-spacing="0">3</tspan></text>
<line x1="577.90" y1="423.00" x2="583.90" y2="423.00" stroke="#000" stroke-width="1.6" stroke-linecap="butt"/>
<text x="576.40" y="425.30" font-size="6.5" text-anchor="end" fill="#222" font-family="Liberation Sans, sans-serif">0</text>
<line x1="600.35" y1="423.00" x2="600.35" y2="428.90" stroke="#000" stroke-width="1.7" stroke-linecap="butt"/>
<text x="600.35" y="437.70" font-size="6.8" text-anchor="middle" fill="#222">0</text>
<line x1="633.70" y1="423.00" x2="633.70" y2="428.90" stroke="#000" stroke-width="1.7" stroke-linecap="butt"/>
<text x="633.70" y="437.70" font-size="6.8" text-anchor="middle" fill="#222">12</text>
<line x1="667.00" y1="423.00" x2="667.00" y2="428.90" stroke="#000" stroke-width="1.7" stroke-linecap="butt"/>
<text x="667.00" y="437.70" font-size="6.8" text-anchor="middle" fill="#222">24</text>
<polyline points="600.35,385.80 633.70,364.30 667.00,417.60" fill="none" stroke="#ff0000" stroke-width="1.2"/>
<line x1="600.35" y1="377.40" x2="600.35" y2="394.50" stroke="#ff0000" stroke-width="0.9" stroke-linecap="butt"/>
<line x1="598.15" y1="377.40" x2="602.55" y2="377.40" stroke="#ff0000" stroke-width="1.3" stroke-linecap="butt"/>
<line x1="598.15" y1="394.50" x2="602.55" y2="394.50" stroke="#ff0000" stroke-width="1.3" stroke-linecap="butt"/>
<circle cx="600.35" cy="385.80" r="2.3" fill="#ff0000"/>
<line x1="633.70" y1="348.50" x2="633.70" y2="379.50" stroke="#ff0000" stroke-width="0.9" stroke-linecap="butt"/>
<line x1="631.50" y1="348.50" x2="635.90" y2="348.50" stroke="#ff0000" stroke-width="1.3" stroke-linecap="butt"/>
<line x1="631.50" y1="379.50" x2="635.90" y2="379.50" stroke="#ff0000" stroke-width="1.3" stroke-linecap="butt"/>
<circle cx="633.70" cy="364.30" r="2.3" fill="#ff0000"/>
<circle cx="667.00" cy="417.60" r="2.3" fill="#ff0000"/>
<polygon points="666.80,397.40 667.42,398.92 669.05,398.70 668.05,400.00 669.05,401.30 667.42,401.08 666.80,402.60 666.17,401.08 664.55,401.30 665.55,400.00 664.55,398.70 666.17,398.92" fill="#111"/>
<line x1="664.20" y1="409.60" x2="669.00" y2="409.60" stroke="#222" stroke-width="1.3" stroke-linecap="butt"/>
<text x="332.20" y="464.80" font-size="16.5" text-anchor="middle" font-weight="bold" fill="#000" >H</text>
<text x="453.30" y="448.80" font-size="11.2" text-anchor="middle" font-weight="bold" fill="#000" >Citrate</text>
<text x="453.30" y="462.00" font-size="11.2" text-anchor="middle" font-weight="bold" fill="#000" >(m+4)</text>
<text x="356.90" y="526.80" font-size="11.2" font-weight="bold" text-anchor="middle" transform="rotate(-90 356.90 526.80)">Metabolite Enrichment</text>
<text x="369.30" y="526.80" font-size="11.2" font-weight="bold" text-anchor="middle" transform="rotate(-90 369.30 526.80)">(Total Ion Counts)</text>
<line x1="405.00" y1="469.80" x2="504.90" y2="469.80" stroke="#000" stroke-width="2.0" stroke-linecap="square"/>
<line x1="504.90" y1="469.80" x2="504.90" y2="569.30" stroke="#000" stroke-width="2.0" stroke-linecap="square"/>
<line x1="399.00" y1="569.30" x2="504.90" y2="569.30" stroke="#000" stroke-width="2.0" stroke-linecap="butt"/>
<line x1="405.00" y1="469.80" x2="405.00" y2="533.10" stroke="#000" stroke-width="2.0" stroke-linecap="butt"/>
<line x1="405.00" y1="548.20" x2="405.00" y2="569.30" stroke="#000" stroke-width="2.0" stroke-linecap="butt"/>
<line x1="399.00" y1="533.10" x2="410.00" y2="533.10" stroke="#000" stroke-width="1.7" stroke-linecap="butt"/>
<line x1="399.00" y1="548.20" x2="410.00" y2="548.20" stroke="#000" stroke-width="1.7" stroke-linecap="butt"/>
<line x1="399.00" y1="469.90" x2="405.00" y2="469.90" stroke="#000" stroke-width="1.6" stroke-linecap="butt"/>
<text x="396.90" y="472.10" font-size="6.6" text-anchor="end" fill="#222" letter-spacing="0.2">8&#215;10<tspan font-size="4.5" dy="-1.3" dx="0.7" letter-spacing="0">7</tspan></text>
<line x1="399.00" y1="485.60" x2="405.00" y2="485.60" stroke="#000" stroke-width="1.6" stroke-linecap="butt"/>
<text x="396.90" y="487.80" font-size="6.6" text-anchor="end" fill="#222" letter-spacing="0.2">6&#215;10<tspan font-size="4.5" dy="-1.3" dx="0.7" letter-spacing="0">7</tspan></text>
<line x1="399.00" y1="501.70" x2="405.00" y2="501.70" stroke="#000" stroke-width="1.6" stroke-linecap="butt"/>
<text x="396.90" y="503.90" font-size="6.6" text-anchor="end" fill="#222" letter-spacing="0.2">4&#215;10<tspan font-size="4.5" dy="-1.3" dx="0.7" letter-spacing="0">7</tspan></text>
<line x1="399.00" y1="517.80" x2="405.00" y2="517.80" stroke="#000" stroke-width="1.6" stroke-linecap="butt"/>
<text x="396.90" y="520.00" font-size="6.6" text-anchor="end" fill="#222" letter-spacing="0.2">2&#215;10<tspan font-size="4.5" dy="-1.3" dx="0.7" letter-spacing="0">7</tspan></text>
<line x1="399.00" y1="548.20" x2="405.00" y2="548.20" stroke="#000" stroke-width="1.6" stroke-linecap="butt"/>
<text x="396.90" y="550.40" font-size="6.6" text-anchor="end" fill="#222" letter-spacing="0.2">1&#215;10<tspan font-size="4.5" dy="-1.3" dx="0.7" letter-spacing="0">6</tspan></text>
<line x1="399.00" y1="559.00" x2="405.00" y2="559.00" stroke="#000" stroke-width="1.6" stroke-linecap="butt"/>
<text x="396.90" y="561.20" font-size="6.6" text-anchor="end" fill="#222" letter-spacing="0.2">5&#215;10<tspan font-size="4.5" dy="-1.3" dx="0.7" letter-spacing="0">5</tspan></text>
<line x1="399.00" y1="569.70" x2="405.00" y2="569.70" stroke="#000" stroke-width="1.6" stroke-linecap="butt"/>
<text x="397.50" y="572.00" font-size="6.5" text-anchor="end" fill="#222" font-family="Liberation Sans, sans-serif">0</text>
<line x1="421.20" y1="569.30" x2="421.20" y2="575.20" stroke="#000" stroke-width="1.7" stroke-linecap="butt"/>
<text x="421.20" y="584.00" font-size="6.8" text-anchor="middle" fill="#222">0</text>
<line x1="455.00" y1="569.30" x2="455.00" y2="575.20" stroke="#000" stroke-width="1.7" stroke-linecap="butt"/>
<text x="455.00" y="584.00" font-size="6.8" text-anchor="middle" fill="#222">12</text>
<line x1="487.80" y1="569.30" x2="487.80" y2="575.20" stroke="#000" stroke-width="1.7" stroke-linecap="butt"/>
<text x="487.80" y="584.00" font-size="6.8" text-anchor="middle" fill="#222">24</text>
<polyline points="421.20,487.50 455.00,562.40 487.80,563.70" fill="none" stroke="#ff0000" stroke-width="1.2"/>
<line x1="421.20" y1="480.90" x2="421.20" y2="493.50" stroke="#ff0000" stroke-width="0.9" stroke-linecap="butt"/>
<line x1="419.00" y1="480.90" x2="423.40" y2="480.90" stroke="#ff0000" stroke-width="1.3" stroke-linecap="butt"/>
<line x1="419.00" y1="493.50" x2="423.40" y2="493.50" stroke="#ff0000" stroke-width="1.3" stroke-linecap="butt"/>
<circle cx="421.20" cy="487.50" r="2.3" fill="#ff0000"/>
<circle cx="455.00" cy="562.40" r="2.3" fill="#ff0000"/>
<circle cx="487.80" cy="563.70" r="2.3" fill="#ff0000"/>
<polygon points="485.98,543.60 486.60,545.12 488.23,544.90 487.23,546.20 488.23,547.50 486.60,547.28 485.98,548.80 485.35,547.28 483.72,547.50 484.73,546.20 483.72,544.90 485.35,545.12" fill="#111"/>
<polygon points="491.03,543.60 491.65,545.12 493.28,544.90 492.28,546.20 493.28,547.50 491.65,547.28 491.03,548.80 490.40,547.28 488.77,547.50 489.78,546.20 488.77,544.90 490.40,545.12" fill="#111"/>
<line x1="485.90" y1="555.80" x2="491.10" y2="555.80" stroke="#222" stroke-width="1.3" stroke-linecap="butt"/>
<text x="512.50" y="464.60" font-size="16.5" text-anchor="middle" font-weight="bold" fill="#000" >I</text>
<text x="631.50" y="448.80" font-size="11.2" text-anchor="middle" font-weight="bold" fill="#000" >Glutathione</text>
<text x="631.50" y="462.00" font-size="11.2" text-anchor="middle" font-weight="bold" fill="#000" >(m+5)</text>
<text x="534.70" y="526.80" font-size="11.2" font-weight="bold" text-anchor="middle" transform="rotate(-90 534.70 526.80)">Metabolite Enrichment</text>
<text x="547.30" y="526.80" font-size="11.2" font-weight="bold" text-anchor="middle" transform="rotate(-90 547.30 526.80)">(Total Ion Counts)</text>
<line x1="583.90" y1="469.80" x2="683.90" y2="469.80" stroke="#000" stroke-width="2.0" stroke-linecap="square"/>
<line x1="683.90" y1="469.80" x2="683.90" y2="569.30" stroke="#000" stroke-width="2.0" stroke-linecap="square"/>
<line x1="577.90" y1="569.30" x2="683.90" y2="569.30" stroke="#000" stroke-width="2.0" stroke-linecap="butt"/>
<line x1="583.90" y1="469.80" x2="583.90" y2="570.20" stroke="#000" stroke-width="2.0" stroke-linecap="butt"/>
<line x1="577.90" y1="469.90" x2="583.90" y2="469.90" stroke="#000" stroke-width="1.6" stroke-linecap="butt"/>
<text x="575.80" y="472.10" font-size="6.6" text-anchor="end" fill="#222" letter-spacing="0.2">8&#215;10<tspan font-size="4.5" dy="-1.3" dx="0.7" letter-spacing="0">7</tspan></text>
<line x1="577.90" y1="495.10" x2="583.90" y2="495.10" stroke="#000" stroke-width="1.6" stroke-linecap="butt"/>
<text x="575.80" y="497.30" font-size="6.6" text-anchor="end" fill="#222" letter-spacing="0.2">6&#215;10<tspan font-size="4.5" dy="-1.3" dx="0.7" letter-spacing="0">7</tspan></text>
<line x1="577.90" y1="519.80" x2="583.90" y2="519.80" stroke="#000" stroke-width="1.6" stroke-linecap="butt"/>
<text x="575.80" y="522.00" font-size="6.6" text-anchor="end" fill="#222" letter-spacing="0.2">4&#215;10<tspan font-size="4.5" dy="-1.3" dx="0.7" letter-spacing="0">7</tspan></text>
<line x1="577.90" y1="544.80" x2="583.90" y2="544.80" stroke="#000" stroke-width="1.6" stroke-linecap="butt"/>
<text x="575.80" y="547.00" font-size="6.6" text-anchor="end" fill="#222" letter-spacing="0.2">2&#215;10<tspan font-size="4.5" dy="-1.3" dx="0.7" letter-spacing="0">7</tspan></text>
<line x1="577.90" y1="569.70" x2="583.90" y2="569.70" stroke="#000" stroke-width="1.6" stroke-linecap="butt"/>
<text x="576.40" y="572.00" font-size="6.5" text-anchor="end" fill="#222" font-family="Liberation Sans, sans-serif">0</text>
<line x1="600.35" y1="569.30" x2="600.35" y2="575.20" stroke="#000" stroke-width="1.7" stroke-linecap="butt"/>
<text x="600.35" y="584.00" font-size="6.8" text-anchor="middle" fill="#222">0</text>
<line x1="633.70" y1="569.30" x2="633.70" y2="575.20" stroke="#000" stroke-width="1.7" stroke-linecap="butt"/>
<text x="633.70" y="584.00" font-size="6.8" text-anchor="middle" fill="#222">12</text>
<line x1="667.00" y1="569.30" x2="667.00" y2="575.20" stroke="#000" stroke-width="1.7" stroke-linecap="butt"/>
<text x="667.00" y="584.00" font-size="6.8" text-anchor="middle" fill="#222">24</text>
<polyline points="600.35,501.40 633.70,530.30 667.00,549.20" fill="none" stroke="#ff0000" stroke-width="1.2"/>
<line x1="600.35" y1="496.70" x2="600.35" y2="504.60" stroke="#ff0000" stroke-width="0.9" stroke-linecap="butt"/>
<line x1="598.15" y1="496.70" x2="602.55" y2="496.70" stroke="#ff0000" stroke-width="1.3" stroke-linecap="butt"/>
<line x1="598.15" y1="504.60" x2="602.55" y2="504.60" stroke="#ff0000" stroke-width="1.3" stroke-linecap="butt"/>
<circle cx="600.35" cy="501.40" r="2.3" fill="#ff0000"/>
<circle cx="633.70" cy="530.30" r="2.3" fill="#ff0000"/>
<circle cx="667.00" cy="549.20" r="2.3" fill="#ff0000"/>
<polygon points="664.18,528.80 664.80,530.32 666.43,530.10 665.43,531.40 666.43,532.70 664.80,532.48 664.18,534.00 663.55,532.48 661.92,532.70 662.93,531.40 661.92,530.10 663.55,530.32" fill="#111"/>
<polygon points="669.23,528.80 669.85,530.32 671.48,530.10 670.48,531.40 671.48,532.70 669.85,532.48 669.23,534.00 668.60,532.48 666.97,532.70 667.98,531.40 666.97,530.10 668.60,530.32" fill="#111"/>
<line x1="662.80" y1="541.00" x2="671.00" y2="541.00" stroke="#222" stroke-width="1.3" stroke-linecap="butt"/>
<text x="332.20" y="612.40" font-size="16.5" text-anchor="middle" font-weight="bold" fill="#000" >J</text>
<text x="453.30" y="595.70" font-size="11.2" text-anchor="middle" font-weight="bold" fill="#000" >Proline</text>
<text x="453.30" y="608.90" font-size="11.2" text-anchor="middle" font-weight="bold" fill="#000" >(m+5)</text>
<text x="356.90" y="673.70" font-size="11.2" font-weight="bold" text-anchor="middle" transform="rotate(-90 356.90 673.70)">Metabolite Enrichment</text>
<text x="369.30" y="673.70" font-size="11.2" font-weight="bold" text-anchor="middle" transform="rotate(-90 369.30 673.70)">(Total Ion Counts)</text>
<line x1="405.00" y1="616.70" x2="504.90" y2="616.70" stroke="#000" stroke-width="2.0" stroke-linecap="square"/>
<line x1="504.90" y1="616.70" x2="504.90" y2="716.10" stroke="#000" stroke-width="2.0" stroke-linecap="square"/>
<line x1="399.00" y1="716.10" x2="504.90" y2="716.10" stroke="#000" stroke-width="2.0" stroke-linecap="butt"/>
<line x1="405.00" y1="616.70" x2="405.00" y2="717.00" stroke="#000" stroke-width="2.0" stroke-linecap="butt"/>
<line x1="399.00" y1="616.70" x2="405.00" y2="616.70" stroke="#000" stroke-width="1.6" stroke-linecap="butt"/>
<text x="396.90" y="618.90" font-size="6.6" text-anchor="end" fill="#222" letter-spacing="0.2">1&#215;10<tspan font-size="4.5" dy="-1.3" dx="0.7" letter-spacing="0">3</tspan></text>
<line x1="399.00" y1="636.70" x2="405.00" y2="636.70" stroke="#000" stroke-width="1.6" stroke-linecap="butt"/>
<text x="396.90" y="638.90" font-size="6.6" text-anchor="end" fill="#222" letter-spacing="0.2">8&#215;10<tspan font-size="4.5" dy="-1.3" dx="0.7" letter-spacing="0">2</tspan></text>
<line x1="399.00" y1="656.50" x2="405.00" y2="656.50" stroke="#000" stroke-width="1.6" stroke-linecap="butt"/>
<text x="396.90" y="658.70" font-size="6.6" text-anchor="end" fill="#222" letter-spacing="0.2">6&#215;10<tspan font-size="4.5" dy="-1.3" dx="0.7" letter-spacing="0">2</tspan></text>
<line x1="399.00" y1="676.60" x2="405.00" y2="676.60" stroke="#000" stroke-width="1.6" stroke-linecap="butt"/>
<text x="396.90" y="678.80" font-size="6.6" text-anchor="end" fill="#222" letter-spacing="0.2">4&#215;10<tspan font-size="4.5" dy="-1.3" dx="0.7" letter-spacing="0">2</tspan></text>
<line x1="399.00" y1="696.30" x2="405.00" y2="696.30" stroke="#000" stroke-width="1.6" stroke-linecap="butt"/>
<text x="396.90" y="698.50" font-size="6.6" text-anchor="end" fill="#222" letter-spacing="0.2">2&#215;10<tspan font-size="4.5" dy="-1.3" dx="0.7" letter-spacing="0">2</tspan></text>
<line x1="399.00" y1="716.20" x2="405.00" y2="716.20" stroke="#000" stroke-width="1.6" stroke-linecap="butt"/>
<text x="397.50" y="718.50" font-size="6.5" text-anchor="end" fill="#222" font-family="Liberation Sans, sans-serif">0</text>
<line x1="421.20" y1="716.10" x2="421.20" y2="722.00" stroke="#000" stroke-width="1.7" stroke-linecap="butt"/>
<text x="421.20" y="730.80" font-size="6.8" text-anchor="middle" fill="#222">0</text>
<line x1="455.00" y1="716.10" x2="455.00" y2="722.00" stroke="#000" stroke-width="1.7" stroke-linecap="butt"/>
<text x="455.00" y="730.80" font-size="6.8" text-anchor="middle" fill="#222">12</text>
<line x1="487.80" y1="716.10" x2="487.80" y2="722.00" stroke="#000" stroke-width="1.7" stroke-linecap="butt"/>
<text x="487.80" y="730.80" font-size="6.8" text-anchor="middle" fill="#222">24</text>
<text x="453.30" y="743.50" font-size="11.2" text-anchor="middle" font-weight="bold" fill="#000" >Time (hrs)</text>
<polyline points="421.20,665.80 455.00,646.40 487.80,699.50" fill="none" stroke="#ff0000" stroke-width="1.2"/>
<line x1="421.20" y1="663.70" x2="421.20" y2="667.70" stroke="#ff0000" stroke-width="0.9" stroke-linecap="butt"/>
<line x1="419.00" y1="663.70" x2="423.40" y2="663.70" stroke="#ff0000" stroke-width="1.3" stroke-linecap="butt"/>
<line x1="419.00" y1="667.70" x2="423.40" y2="667.70" stroke="#ff0000" stroke-width="1.3" stroke-linecap="butt"/>
<circle cx="421.20" cy="665.80" r="2.3" fill="#ff0000"/>
<line x1="455.00" y1="625.90" x2="455.00" y2="666.10" stroke="#ff0000" stroke-width="0.9" stroke-linecap="butt"/>
<line x1="452.80" y1="625.90" x2="457.20" y2="625.90" stroke="#ff0000" stroke-width="1.3" stroke-linecap="butt"/>
<line x1="452.80" y1="666.10" x2="457.20" y2="666.10" stroke="#ff0000" stroke-width="1.3" stroke-linecap="butt"/>
<circle cx="455.00" cy="646.40" r="2.3" fill="#ff0000"/>
<circle cx="487.80" cy="699.50" r="2.3" fill="#ff0000"/>
<polygon points="480.12,673.95 480.75,675.47 482.38,675.25 481.38,676.55 482.38,677.85 480.75,677.63 480.12,679.15 479.50,677.63 477.87,677.85 478.88,676.55 477.87,675.25 479.50,675.47" fill="#111"/>
<polygon points="485.18,673.95 485.80,675.47 487.43,675.25 486.43,676.55 487.43,677.85 485.80,677.63 485.18,679.15 484.55,677.63 482.92,677.85 483.93,676.55 482.92,675.25 484.55,675.47" fill="#111"/>
<polygon points="490.23,673.95 490.85,675.47 492.48,675.25 491.48,676.55 492.48,677.85 490.85,677.63 490.23,679.15 489.60,677.63 487.97,677.85 488.98,676.55 487.97,675.25 489.60,675.47" fill="#111"/>
<polygon points="495.27,673.95 495.90,675.47 497.53,675.25 496.52,676.55 497.53,677.85 495.90,677.63 495.27,679.15 494.65,677.63 493.02,677.85 494.02,676.55 493.02,675.25 494.65,675.47" fill="#111"/>
<line x1="484.80" y1="686.60" x2="490.40" y2="686.60" stroke="#222" stroke-width="1.3" stroke-linecap="butt"/>
<text x="512.50" y="612.60" font-size="16.5" text-anchor="middle" font-weight="bold" fill="#000" >K</text>
<text x="631.50" y="595.70" font-size="11.2" text-anchor="middle" font-weight="bold" fill="#000" >Palmitate</text>
<text x="631.50" y="608.90" font-size="11.2" text-anchor="middle" font-weight="bold" fill="#000" >(m+2)</text>
<text x="534.70" y="673.70" font-size="11.2" font-weight="bold" text-anchor="middle" transform="rotate(-90 534.70 673.70)">Metabolite Enrichment</text>
<text x="547.30" y="673.70" font-size="11.2" font-weight="bold" text-anchor="middle" transform="rotate(-90 547.30 673.70)">(Total Ion Counts)</text>
<line x1="583.90" y1="616.70" x2="683.90" y2="616.70" stroke="#000" stroke-width="2.0" stroke-linecap="square"/>
<line x1="683.90" y1="616.70" x2="683.90" y2="716.10" stroke="#000" stroke-width="2.0" stroke-linecap="square"/>
<line x1="577.90" y1="716.10" x2="683.90" y2="716.10" stroke="#000" stroke-width="2.0" stroke-linecap="butt"/>
<line x1="583.90" y1="616.70" x2="583.90" y2="717.00" stroke="#000" stroke-width="2.0" stroke-linecap="butt"/>
<line x1="577.90" y1="616.70" x2="583.90" y2="616.70" stroke="#000" stroke-width="1.6" stroke-linecap="butt"/>
<text x="575.80" y="618.90" font-size="6.6" text-anchor="end" fill="#222" letter-spacing="0.2">2&#215;10<tspan font-size="4.5" dy="-1.3" dx="0.7" letter-spacing="0">7</tspan></text>
<line x1="577.90" y1="666.60" x2="583.90" y2="666.60" stroke="#000" stroke-width="1.6" stroke-linecap="butt"/>
<text x="575.80" y="668.80" font-size="6.6" text-anchor="end" fill="#222" letter-spacing="0.2">1&#215;10<tspan font-size="4.5" dy="-1.3" dx="0.7" letter-spacing="0">7</tspan></text>
<line x1="577.90" y1="716.60" x2="583.90" y2="716.60" stroke="#000" stroke-width="1.6" stroke-linecap="butt"/>
<text x="576.40" y="718.90" font-size="6.5" text-anchor="end" fill="#222" font-family="Liberation Sans, sans-serif">0</text>
<line x1="600.35" y1="716.10" x2="600.35" y2="722.00" stroke="#000" stroke-width="1.7" stroke-linecap="butt"/>
<text x="600.35" y="730.80" font-size="6.8" text-anchor="middle" fill="#222">0</text>
<line x1="633.70" y1="716.10" x2="633.70" y2="722.00" stroke="#000" stroke-width="1.7" stroke-linecap="butt"/>
<text x="633.70" y="730.80" font-size="6.8" text-anchor="middle" fill="#222">12</text>
<line x1="667.00" y1="716.10" x2="667.00" y2="722.00" stroke="#000" stroke-width="1.7" stroke-linecap="butt"/>
<text x="667.00" y="730.80" font-size="6.8" text-anchor="middle" fill="#222">24</text>
<text x="631.50" y="743.50" font-size="11.2" text-anchor="middle" font-weight="bold" fill="#000" >Time (hrs)</text>
<polyline points="600.35,628.00 633.70,634.10 667.00,706.30" fill="none" stroke="#ff0000" stroke-width="1.2"/>
<line x1="600.35" y1="619.60" x2="600.35" y2="636.40" stroke="#ff0000" stroke-width="0.9" stroke-linecap="butt"/>
<line x1="598.15" y1="619.60" x2="602.55" y2="619.60" stroke="#ff0000" stroke-width="1.3" stroke-linecap="butt"/>
<line x1="598.15" y1="636.40" x2="602.55" y2="636.40" stroke="#ff0000" stroke-width="1.3" stroke-linecap="butt"/>
<circle cx="600.35" cy="628.00" r="2.3" fill="#ff0000"/>
<line x1="633.70" y1="629.30" x2="633.70" y2="638.00" stroke="#ff0000" stroke-width="0.9" stroke-linecap="butt"/>
<line x1="631.50" y1="629.30" x2="635.90" y2="629.30" stroke="#ff0000" stroke-width="1.3" stroke-linecap="butt"/>
<line x1="631.50" y1="638.00" x2="635.90" y2="638.00" stroke="#ff0000" stroke-width="1.3" stroke-linecap="butt"/>
<circle cx="633.70" cy="634.10" r="2.3" fill="#ff0000"/>
<circle cx="667.00" cy="706.30" r="2.3" fill="#ff0000"/>
<polygon points="664.98,685.50 665.60,687.02 667.23,686.80 666.23,688.10 667.23,689.40 665.60,689.18 664.98,690.70 664.35,689.18 662.72,689.40 663.73,688.10 662.72,686.80 664.35,687.02" fill="#111"/>
<polygon points="670.02,685.50 670.65,687.02 672.28,686.80 671.27,688.10 672.28,689.40 670.65,689.18 670.02,690.70 669.40,689.18 667.77,689.40 668.77,688.10 667.77,686.80 669.40,687.02" fill="#111"/>
<line x1="663.90" y1="697.90" x2="671.00" y2="697.90" stroke="#222" stroke-width="1.3" stroke-linecap="butt"/>
<text x="12.10" y="782.50" font-size="16.5" text-anchor="middle" font-weight="bold" fill="#000" >L</text>
<text x="29.70" y="864.50" font-size="11.2" font-weight="bold" text-anchor="middle" transform="rotate(-90 29.70 864.50)">Relative GSH Level</text>
<line x1="61.90" y1="806.80" x2="61.90" y2="927.00" stroke="#000" stroke-width="2.0" stroke-linecap="butt"/>
<line x1="55.90" y1="927.00" x2="152.30" y2="927.00" stroke="#000" stroke-width="2.0" stroke-linecap="butt"/>
<line x1="55.90" y1="806.80" x2="61.90" y2="806.80" stroke="#000" stroke-width="1.7" stroke-linecap="butt"/>
<text x="54.20" y="809.80" font-size="6.6" text-anchor="end" fill="#222">1.5</text>
<line x1="55.90" y1="846.90" x2="61.90" y2="846.90" stroke="#000" stroke-width="1.7" stroke-linecap="butt"/>
<text x="54.20" y="849.90" font-size="6.6" text-anchor="end" fill="#222">1.0</text>
<line x1="55.90" y1="886.80" x2="61.90" y2="886.80" stroke="#000" stroke-width="1.7" stroke-linecap="butt"/>
<text x="54.20" y="889.80" font-size="6.6" text-anchor="end" fill="#222">0.5</text>
<line x1="55.90" y1="927.00" x2="61.90" y2="927.00" stroke="#000" stroke-width="1.7" stroke-linecap="butt"/>
<text x="54.20" y="930.00" font-size="6.6" text-anchor="end" fill="#222">0.0</text>
<line x1="76.60" y1="927.00" x2="76.60" y2="932.80" stroke="#000" stroke-width="1.8" stroke-linecap="butt"/>
<line x1="106.60" y1="927.00" x2="106.60" y2="932.80" stroke="#000" stroke-width="1.8" stroke-linecap="butt"/>
<line x1="136.60" y1="927.00" x2="136.60" y2="932.80" stroke="#000" stroke-width="1.8" stroke-linecap="butt"/>
<text x="80.20" y="942.60" font-size="11.5" font-weight="bold" text-anchor="end" transform="rotate(-45 80.20 942.60)">Vehicle</text>
<text x="110.20" y="942.60" font-size="11.5" font-weight="bold" text-anchor="end" transform="rotate(-45 110.20 942.60)">iMQT_020</text>
<text x="140.20" y="942.60" font-size="11.5" font-weight="bold" text-anchor="end" transform="rotate(-45 140.20 942.60)">iMQT_020 + DM-<tspan font-family="Liberation Serif" font-weight="normal">&#945;</tspan>KG</text>
<line x1="71.50" y1="797.80" x2="107.30" y2="797.80" stroke="#333" stroke-width="1.2" stroke-linecap="butt"/>
<polygon points="85.35,788.35 85.83,789.48 87.04,789.32 86.30,790.30 87.04,791.27 85.83,791.12 85.35,792.25 84.88,791.12 83.66,791.27 84.40,790.30 83.66,789.32 84.88,789.48" fill="#111"/>
<polygon points="89.40,788.35 89.88,789.48 91.09,789.32 90.35,790.30 91.09,791.27 89.88,791.12 89.40,792.25 88.93,791.12 87.71,791.27 88.45,790.30 87.71,789.32 88.93,789.48" fill="#111"/>
<polygon points="93.45,788.35 93.92,789.48 95.14,789.32 94.40,790.30 95.14,791.27 93.92,791.12 93.45,792.25 92.98,791.12 91.76,791.27 92.50,790.30 91.76,789.32 92.98,789.48" fill="#111"/>
<line x1="99.60" y1="777.40" x2="136.70" y2="777.40" stroke="#333" stroke-width="1.2" stroke-linecap="butt"/>
<polygon points="116.12,767.95 116.60,769.08 117.81,768.92 117.07,769.90 117.81,770.88 116.60,770.72 116.12,771.85 115.65,770.72 114.44,770.88 115.17,769.90 114.44,768.92 115.65,769.08" fill="#111"/>
<polygon points="120.17,767.95 120.65,769.08 121.86,768.92 121.12,769.90 121.86,770.88 120.65,770.72 120.17,771.85 119.70,770.72 118.49,770.88 119.22,769.90 118.49,768.92 119.70,769.08" fill="#111"/>
<line x1="76.60" y1="842.50" x2="76.60" y2="849.70" stroke="#828282" stroke-width="1.2" stroke-linecap="butt"/>
<line x1="71.80" y1="842.50" x2="81.40" y2="842.50" stroke="#828282" stroke-width="1.2" stroke-linecap="butt"/>
<line x1="71.80" y1="849.70" x2="81.40" y2="849.70" stroke="#828282" stroke-width="1.2" stroke-linecap="butt"/>
<rect x="74.35" y="840.00" width="4.8" height="4.8" fill="#828282"/>
<rect x="70.20" y="847.70" width="4.8" height="4.8" fill="#828282"/>
<rect x="78.90" y="845.20" width="4.8" height="4.8" fill="#828282"/>
<line x1="66.60" y1="847.00" x2="86.60" y2="847.00" stroke="#828282" stroke-width="1.8" stroke-linecap="butt"/>
<line x1="106.60" y1="891.20" x2="106.60" y2="914.00" stroke="#f7383e" stroke-width="1.2" stroke-linecap="butt"/>
<line x1="101.80" y1="891.20" x2="111.40" y2="891.20" stroke="#f7383e" stroke-width="1.2" stroke-linecap="butt"/>
<line x1="101.80" y1="914.00" x2="111.40" y2="914.00" stroke="#f7383e" stroke-width="1.2" stroke-linecap="butt"/>
<circle cx="106.60" cy="891.20" r="2.5" fill="#f7383e"/>
<circle cx="106.60" cy="901.10" r="2.5" fill="#f7383e"/>
<circle cx="106.60" cy="914.00" r="2.5" fill="#f7383e"/>
<line x1="96.60" y1="901.10" x2="116.60" y2="901.10" stroke="#f7383e" stroke-width="1.8" stroke-linecap="butt"/>
<line x1="136.60" y1="847.50" x2="136.60" y2="862.50" stroke="#15bc78" stroke-width="1.2" stroke-linecap="butt"/>
<line x1="131.80" y1="847.50" x2="141.40" y2="847.50" stroke="#15bc78" stroke-width="1.2" stroke-linecap="butt"/>
<line x1="131.80" y1="862.50" x2="141.40" y2="862.50" stroke="#15bc78" stroke-width="1.2" stroke-linecap="butt"/>
<polygon points="133.70,849.80 139.50,849.80 136.60,844.70" fill="#15bc78"/>
<polygon points="130.00,865.60 135.80,865.60 132.90,860.50" fill="#15bc78"/>
<polygon points="137.90,862.30 143.70,862.30 140.80,857.20" fill="#15bc78"/>
<line x1="126.60" y1="860.60" x2="146.60" y2="860.60" stroke="#15bc78" stroke-width="1.8" stroke-linecap="butt"/>
<text x="190.80" y="782.50" font-size="16.5" text-anchor="middle" font-weight="bold" fill="#000" >M</text>
<text x="204.50" y="864.50" font-size="11.2" font-weight="bold" text-anchor="middle" transform="rotate(-90 204.50 864.50)">Relative ROS Level</text>
<line x1="232.60" y1="806.80" x2="232.60" y2="927.00" stroke="#000" stroke-width="2.0" stroke-linecap="butt"/>
<line x1="226.60" y1="927.00" x2="323.30" y2="927.00" stroke="#000" stroke-width="2.0" stroke-linecap="butt"/>
<line x1="226.60" y1="806.80" x2="232.60" y2="806.80" stroke="#000" stroke-width="1.7" stroke-linecap="butt"/>
<text x="224.90" y="809.80" font-size="6.6" text-anchor="end" fill="#222">4</text>
<line x1="226.60" y1="836.80" x2="232.60" y2="836.80" stroke="#000" stroke-width="1.7" stroke-linecap="butt"/>
<text x="224.90" y="839.80" font-size="6.6" text-anchor="end" fill="#222">3</text>
<line x1="226.60" y1="866.80" x2="232.60" y2="866.80" stroke="#000" stroke-width="1.7" stroke-linecap="butt"/>
<text x="224.90" y="869.80" font-size="6.6" text-anchor="end" fill="#222">2</text>
<line x1="226.60" y1="896.90" x2="232.60" y2="896.90" stroke="#000" stroke-width="1.7" stroke-linecap="butt"/>
<text x="224.90" y="899.90" font-size="6.6" text-anchor="end" fill="#222">1</text>
<line x1="226.60" y1="927.00" x2="232.60" y2="927.00" stroke="#000" stroke-width="1.7" stroke-linecap="butt"/>
<text x="224.90" y="930.00" font-size="6.6" text-anchor="end" fill="#222">0</text>
<line x1="247.20" y1="927.00" x2="247.20" y2="932.80" stroke="#000" stroke-width="1.8" stroke-linecap="butt"/>
<line x1="277.30" y1="927.00" x2="277.30" y2="932.80" stroke="#000" stroke-width="1.8" stroke-linecap="butt"/>
<line x1="307.20" y1="927.00" x2="307.20" y2="932.80" stroke="#000" stroke-width="1.8" stroke-linecap="butt"/>
<text x="250.80" y="942.60" font-size="11.5" font-weight="bold" text-anchor="end" transform="rotate(-45 250.80 942.60)">Vehicle</text>
<text x="280.90" y="942.60" font-size="11.5" font-weight="bold" text-anchor="end" transform="rotate(-45 280.90 942.60)">iMQT_020</text>
<text x="310.80" y="942.60" font-size="11.5" font-weight="bold" text-anchor="end" transform="rotate(-45 310.80 942.60)">iMQT_020 + DM-<tspan font-family="Liberation Serif" font-weight="normal">&#945;</tspan>KG</text>
<line x1="242.30" y1="797.80" x2="278.10" y2="797.80" stroke="#333" stroke-width="1.2" stroke-linecap="butt"/>
<polygon points="256.15,788.35 256.63,789.48 257.84,789.32 257.10,790.30 257.84,791.27 256.63,791.12 256.15,792.25 255.68,791.12 254.46,791.27 255.20,790.30 254.46,789.32 255.68,789.48" fill="#111"/>
<polygon points="260.20,788.35 260.68,789.48 261.89,789.32 261.15,790.30 261.89,791.27 260.68,791.12 260.20,792.25 259.73,791.12 258.51,791.27 259.25,790.30 258.51,789.32 259.73,789.48" fill="#111"/>
<polygon points="264.25,788.35 264.73,789.48 265.94,789.32 265.20,790.30 265.94,791.27 264.73,791.12 264.25,792.25 263.78,791.12 262.56,791.27 263.30,790.30 262.56,789.32 263.78,789.48" fill="#111"/>
<line x1="270.40" y1="777.40" x2="307.20" y2="777.40" stroke="#333" stroke-width="1.2" stroke-linecap="butt"/>
<polygon points="284.75,767.95 285.22,769.08 286.44,768.92 285.70,769.90 286.44,770.88 285.22,770.72 284.75,771.85 284.27,770.72 283.06,770.88 283.80,769.90 283.06,768.92 284.27,769.08" fill="#111"/>
<polygon points="288.80,767.95 289.27,769.08 290.49,768.92 289.75,769.90 290.49,770.88 289.27,770.72 288.80,771.85 288.32,770.72 287.11,770.88 287.85,769.90 287.11,768.92 288.32,769.08" fill="#111"/>
<polygon points="292.85,767.95 293.32,769.08 294.54,768.92 293.80,769.90 294.54,770.88 293.32,770.72 292.85,771.85 292.37,770.72 291.16,770.88 291.90,769.90 291.16,768.92 292.37,769.08" fill="#111"/>
<line x1="247.20" y1="895.50" x2="247.20" y2="899.50" stroke="#828282" stroke-width="1.2" stroke-linecap="butt"/>
<line x1="242.40" y1="895.50" x2="252.00" y2="895.50" stroke="#828282" stroke-width="1.2" stroke-linecap="butt"/>
<line x1="242.40" y1="899.50" x2="252.00" y2="899.50" stroke="#828282" stroke-width="1.2" stroke-linecap="butt"/>
<rect x="240.10" y="896.10" width="4.8" height="4.8" fill="#828282"/>
<rect x="244.80" y="893.60" width="4.8" height="4.8" fill="#828282"/>
<rect x="250.10" y="896.40" width="4.8" height="4.8" fill="#828282"/>
<line x1="237.20" y1="897.50" x2="257.20" y2="897.50" stroke="#828282" stroke-width="1.8" stroke-linecap="butt"/>
<line x1="277.30" y1="841.20" x2="277.30" y2="858.40" stroke="#f7383e" stroke-width="1.2" stroke-linecap="butt"/>
<line x1="272.50" y1="841.20" x2="282.10" y2="841.20" stroke="#f7383e" stroke-width="1.2" stroke-linecap="butt"/>
<line x1="272.50" y1="858.40" x2="282.10" y2="858.40" stroke="#f7383e" stroke-width="1.2" stroke-linecap="butt"/>
<circle cx="277.30" cy="841.20" r="2.5" fill="#f7383e"/>
<circle cx="277.30" cy="858.40" r="2.5" fill="#f7383e"/>
<circle cx="277.30" cy="845.00" r="2.5" fill="#f7383e"/>
<line x1="267.30" y1="845.60" x2="287.30" y2="845.60" stroke="#f7383e" stroke-width="1.8" stroke-linecap="butt"/>
<line x1="307.20" y1="887.00" x2="307.20" y2="891.00" stroke="#15bc78" stroke-width="1.2" stroke-linecap="butt"/>
<line x1="302.40" y1="887.00" x2="312.00" y2="887.00" stroke="#15bc78" stroke-width="1.2" stroke-linecap="butt"/>
<line x1="302.40" y1="891.00" x2="312.00" y2="891.00" stroke="#15bc78" stroke-width="1.2" stroke-linecap="butt"/>
<polygon points="300.60,889.30 306.40,889.30 303.50,884.20" fill="#15bc78"/>
<polygon points="304.30,892.80 310.10,892.80 307.20,887.70" fill="#15bc78"/>
<polygon points="308.10,891.80 313.90,891.80 311.00,886.70" fill="#15bc78"/>
<line x1="297.20" y1="889.00" x2="317.20" y2="889.00" stroke="#15bc78" stroke-width="1.8" stroke-linecap="butt"/>
<text x="370.30" y="782.50" font-size="16.5" text-anchor="middle" font-weight="bold" fill="#000" >N</text>
<text x="382.30" y="864.50" font-size="10.4" font-weight="bold" text-anchor="middle" transform="rotate(-90 382.30 864.50)">Relative MitoROS Level</text>
<line x1="412.30" y1="806.80" x2="412.30" y2="927.00" stroke="#000" stroke-width="2.0" stroke-linecap="butt"/>
<line x1="406.30" y1="927.00" x2="502.70" y2="927.00" stroke="#000" stroke-width="2.0" stroke-linecap="butt"/>
<line x1="406.30" y1="806.80" x2="412.30" y2="806.80" stroke="#000" stroke-width="1.7" stroke-linecap="butt"/>
<text x="403.30" y="809.80" font-size="6.6" text-anchor="end" fill="#222">2.0</text>
<line x1="406.30" y1="836.90" x2="412.30" y2="836.90" stroke="#000" stroke-width="1.7" stroke-linecap="butt"/>
<text x="403.30" y="839.90" font-size="6.6" text-anchor="end" fill="#222">1.5</text>
<line x1="406.30" y1="866.90" x2="412.30" y2="866.90" stroke="#000" stroke-width="1.7" stroke-linecap="butt"/>
<text x="403.30" y="869.90" font-size="6.6" text-anchor="end" fill="#222">1.0</text>
<line x1="406.30" y1="896.90" x2="412.30" y2="896.90" stroke="#000" stroke-width="1.7" stroke-linecap="butt"/>
<text x="403.30" y="899.90" font-size="6.6" text-anchor="end" fill="#222">0.5</text>
<line x1="406.30" y1="927.00" x2="412.30" y2="927.00" stroke="#000" stroke-width="1.7" stroke-linecap="butt"/>
<text x="403.30" y="930.00" font-size="6.6" text-anchor="end" fill="#222">0.0</text>
<line x1="426.90" y1="927.00" x2="426.90" y2="932.80" stroke="#000" stroke-width="1.8" stroke-linecap="butt"/>
<line x1="456.80" y1="927.00" x2="456.80" y2="932.80" stroke="#000" stroke-width="1.8" stroke-linecap="butt"/>
<line x1="486.90" y1="927.00" x2="486.90" y2="932.80" stroke="#000" stroke-width="1.8" stroke-linecap="butt"/>
<text x="430.50" y="942.60" font-size="11.5" font-weight="bold" text-anchor="end" transform="rotate(-45 430.50 942.60)">Vehicle</text>
<text x="460.40" y="942.60" font-size="11.5" font-weight="bold" text-anchor="end" transform="rotate(-45 460.40 942.60)">iMQT_020</text>
<text x="490.50" y="942.60" font-size="11.5" font-weight="bold" text-anchor="end" transform="rotate(-45 490.50 942.60)">iMQT_020 + DM-<tspan font-family="Liberation Serif" font-weight="normal">&#945;</tspan>KG</text>
<line x1="421.20" y1="797.80" x2="457.00" y2="797.80" stroke="#333" stroke-width="1.2" stroke-linecap="butt"/>
<polygon points="435.05,788.35 435.53,789.48 436.74,789.32 436.00,790.30 436.74,791.27 435.53,791.12 435.05,792.25 434.57,791.12 433.36,791.27 434.10,790.30 433.36,789.32 434.57,789.48" fill="#111"/>
<polygon points="439.10,788.35 439.58,789.48 440.79,789.32 440.05,790.30 440.79,791.27 439.58,791.12 439.10,792.25 438.62,791.12 437.41,791.27 438.15,790.30 437.41,789.32 438.62,789.48" fill="#111"/>
<polygon points="443.15,788.35 443.63,789.48 444.84,789.32 444.10,790.30 444.84,791.27 443.63,791.12 443.15,792.25 442.68,791.12 441.46,791.27 442.20,790.30 441.46,789.32 442.68,789.48" fill="#111"/>
<line x1="457.00" y1="777.40" x2="486.40" y2="777.40" stroke="#333" stroke-width="1.2" stroke-linecap="butt"/>
<polygon points="469.68,767.95 470.15,769.08 471.36,768.92 470.62,769.90 471.36,770.88 470.15,770.72 469.68,771.85 469.20,770.72 467.99,770.88 468.73,769.90 467.99,768.92 469.20,769.08" fill="#111"/>
<polygon points="473.73,767.95 474.20,769.08 475.41,768.92 474.68,769.90 475.41,770.88 474.20,770.72 473.73,771.85 473.25,770.72 472.04,770.88 472.78,769.90 472.04,768.92 473.25,769.08" fill="#111"/>
<line x1="426.90" y1="866.00" x2="426.90" y2="871.00" stroke="#828282" stroke-width="1.2" stroke-linecap="butt"/>
<line x1="422.10" y1="866.00" x2="431.70" y2="866.00" stroke="#828282" stroke-width="1.2" stroke-linecap="butt"/>
<line x1="422.10" y1="871.00" x2="431.70" y2="871.00" stroke="#828282" stroke-width="1.2" stroke-linecap="butt"/>
<rect x="420.10" y="863.60" width="4.8" height="4.8" fill="#828282"/>
<rect x="424.50" y="868.10" width="4.8" height="4.8" fill="#828282"/>
<rect x="429.60" y="866.10" width="4.8" height="4.8" fill="#828282"/>
<line x1="416.90" y1="868.60" x2="436.90" y2="868.60" stroke="#828282" stroke-width="1.8" stroke-linecap="butt"/>
<line x1="456.80" y1="818.80" x2="456.80" y2="836.10" stroke="#f7383e" stroke-width="1.2" stroke-linecap="butt"/>
<line x1="452.00" y1="818.80" x2="461.60" y2="818.80" stroke="#f7383e" stroke-width="1.2" stroke-linecap="butt"/>
<line x1="452.00" y1="836.10" x2="461.60" y2="836.10" stroke="#f7383e" stroke-width="1.2" stroke-linecap="butt"/>
<circle cx="456.80" cy="818.80" r="2.5" fill="#f7383e"/>
<circle cx="456.80" cy="836.10" r="2.5" fill="#f7383e"/>
<circle cx="456.80" cy="822.00" r="2.5" fill="#f7383e"/>
<line x1="446.80" y1="823.40" x2="466.80" y2="823.40" stroke="#f7383e" stroke-width="1.8" stroke-linecap="butt"/>
<line x1="486.90" y1="854.00" x2="486.90" y2="870.40" stroke="#15bc78" stroke-width="1.2" stroke-linecap="butt"/>
<line x1="482.10" y1="854.00" x2="491.70" y2="854.00" stroke="#15bc78" stroke-width="1.2" stroke-linecap="butt"/>
<line x1="482.10" y1="870.40" x2="491.70" y2="870.40" stroke="#15bc78" stroke-width="1.2" stroke-linecap="butt"/>
<polygon points="484.00,856.30 489.80,856.30 486.90,851.20" fill="#15bc78"/>
<polygon points="484.00,866.50 489.80,866.50 486.90,861.40" fill="#15bc78"/>
<polygon points="484.00,872.70 489.80,872.70 486.90,867.60" fill="#15bc78"/>
<line x1="476.90" y1="863.50" x2="496.90" y2="863.50" stroke="#15bc78" stroke-width="1.8" stroke-linecap="butt"/>
<text x="549.10" y="782.50" font-size="16.5" text-anchor="middle" font-weight="bold" fill="#000" >O</text>
<text x="558.20" y="864.50" font-size="11.2" font-weight="bold" text-anchor="middle" transform="rotate(-90 558.20 864.50)">Relative ATP Level</text>
<line x1="587.90" y1="806.80" x2="587.90" y2="927.00" stroke="#000" stroke-width="2.0" stroke-linecap="butt"/>
<line x1="581.90" y1="927.00" x2="678.60" y2="927.00" stroke="#000" stroke-width="2.0" stroke-linecap="butt"/>
<line x1="581.90" y1="806.80" x2="587.90" y2="806.80" stroke="#000" stroke-width="1.7" stroke-linecap="butt"/>
<text x="580.20" y="809.80" font-size="6.6" text-anchor="end" fill="#222">1.5</text>
<line x1="581.90" y1="846.90" x2="587.90" y2="846.90" stroke="#000" stroke-width="1.7" stroke-linecap="butt"/>
<text x="580.20" y="849.90" font-size="6.6" text-anchor="end" fill="#222">1.0</text>
<line x1="581.90" y1="886.80" x2="587.90" y2="886.80" stroke="#000" stroke-width="1.7" stroke-linecap="butt"/>
<text x="580.20" y="889.80" font-size="6.6" text-anchor="end" fill="#222">0.5</text>
<line x1="581.90" y1="927.00" x2="587.90" y2="927.00" stroke="#000" stroke-width="1.7" stroke-linecap="butt"/>
<text x="580.20" y="930.00" font-size="6.6" text-anchor="end" fill="#222">0.0</text>
<line x1="602.70" y1="927.00" x2="602.70" y2="932.80" stroke="#000" stroke-width="1.8" stroke-linecap="butt"/>
<line x1="632.60" y1="927.00" x2="632.60" y2="932.80" stroke="#000" stroke-width="1.8" stroke-linecap="butt"/>
<line x1="662.80" y1="927.00" x2="662.80" y2="932.80" stroke="#000" stroke-width="1.8" stroke-linecap="butt"/>
<text x="606.30" y="942.60" font-size="11.5" font-weight="bold" text-anchor="end" transform="rotate(-45 606.30 942.60)">Vehicle</text>
<text x="636.20" y="942.60" font-size="11.5" font-weight="bold" text-anchor="end" transform="rotate(-45 636.20 942.60)">iMQT_020</text>
<text x="666.40" y="942.60" font-size="11.5" font-weight="bold" text-anchor="end" transform="rotate(-45 666.40 942.60)">iMQT_020 + DM-<tspan font-family="Liberation Serif" font-weight="normal">&#945;</tspan>KG</text>
<line x1="598.10" y1="797.80" x2="633.40" y2="797.80" stroke="#333" stroke-width="1.2" stroke-linecap="butt"/>
<polygon points="611.70,788.35 612.18,789.48 613.39,789.32 612.65,790.30 613.39,791.27 612.18,791.12 611.70,792.25 611.23,791.12 610.01,791.27 610.75,790.30 610.01,789.32 611.23,789.48" fill="#111"/>
<polygon points="615.75,788.35 616.23,789.48 617.44,789.32 616.70,790.30 617.44,791.27 616.23,791.12 615.75,792.25 615.27,791.12 614.06,791.27 614.80,790.30 614.06,789.32 615.27,789.48" fill="#111"/>
<polygon points="619.80,788.35 620.28,789.48 621.49,789.32 620.75,790.30 621.49,791.27 620.28,791.12 619.80,792.25 619.33,791.12 618.11,791.27 618.85,790.30 618.11,789.32 619.33,789.48" fill="#111"/>
<line x1="630.10" y1="777.40" x2="662.80" y2="777.40" stroke="#333" stroke-width="1.2" stroke-linecap="butt"/>
<polygon points="644.43,767.95 644.90,769.08 646.11,768.92 645.38,769.90 646.11,770.88 644.90,770.72 644.43,771.85 643.95,770.72 642.74,770.88 643.48,769.90 642.74,768.92 643.95,769.08" fill="#111"/>
<polygon points="648.48,767.95 648.95,769.08 650.16,768.92 649.43,769.90 650.16,770.88 648.95,770.72 648.48,771.85 648.00,770.72 646.79,770.88 647.52,769.90 646.79,768.92 648.00,769.08" fill="#111"/>
<line x1="602.70" y1="845.50" x2="602.70" y2="848.50" stroke="#828282" stroke-width="1.2" stroke-linecap="butt"/>
<line x1="597.90" y1="845.50" x2="607.50" y2="845.50" stroke="#828282" stroke-width="1.2" stroke-linecap="butt"/>
<line x1="597.90" y1="848.50" x2="607.50" y2="848.50" stroke="#828282" stroke-width="1.2" stroke-linecap="butt"/>
<rect x="593.10" y="845.60" width="4.8" height="4.8" fill="#828282"/>
<rect x="600.60" y="843.10" width="4.8" height="4.8" fill="#828282"/>
<rect x="608.10" y="844.50" width="4.8" height="4.8" fill="#828282"/>
<line x1="592.70" y1="846.90" x2="612.70" y2="846.90" stroke="#828282" stroke-width="1.8" stroke-linecap="butt"/>
<line x1="632.60" y1="870.40" x2="632.60" y2="878.00" stroke="#f7383e" stroke-width="1.2" stroke-linecap="butt"/>
<line x1="627.80" y1="870.40" x2="637.40" y2="870.40" stroke="#f7383e" stroke-width="1.2" stroke-linecap="butt"/>
<line x1="627.80" y1="878.00" x2="637.40" y2="878.00" stroke="#f7383e" stroke-width="1.2" stroke-linecap="butt"/>
<circle cx="633.40" cy="870.40" r="2.5" fill="#f7383e"/>
<circle cx="628.80" cy="878.00" r="2.5" fill="#f7383e"/>
<circle cx="637.00" cy="875.50" r="2.5" fill="#f7383e"/>
<line x1="622.60" y1="874.50" x2="642.60" y2="874.50" stroke="#f7383e" stroke-width="1.8" stroke-linecap="butt"/>
<line x1="662.80" y1="850.00" x2="662.80" y2="859.10" stroke="#15bc78" stroke-width="1.2" stroke-linecap="butt"/>
<line x1="658.00" y1="850.00" x2="667.60" y2="850.00" stroke="#15bc78" stroke-width="1.2" stroke-linecap="butt"/>
<line x1="658.00" y1="859.10" x2="667.60" y2="859.10" stroke="#15bc78" stroke-width="1.2" stroke-linecap="butt"/>
<polygon points="659.90,852.30 665.70,852.30 662.80,847.20" fill="#15bc78"/>
<polygon points="659.90,861.40 665.70,861.40 662.80,856.30" fill="#15bc78"/>
<polygon points="659.90,857.80 665.70,857.80 662.80,852.70" fill="#15bc78"/>
<line x1="652.80" y1="855.30" x2="672.80" y2="855.30" stroke="#15bc78" stroke-width="1.8" stroke-linecap="butt"/>
</svg>
</body></html>
